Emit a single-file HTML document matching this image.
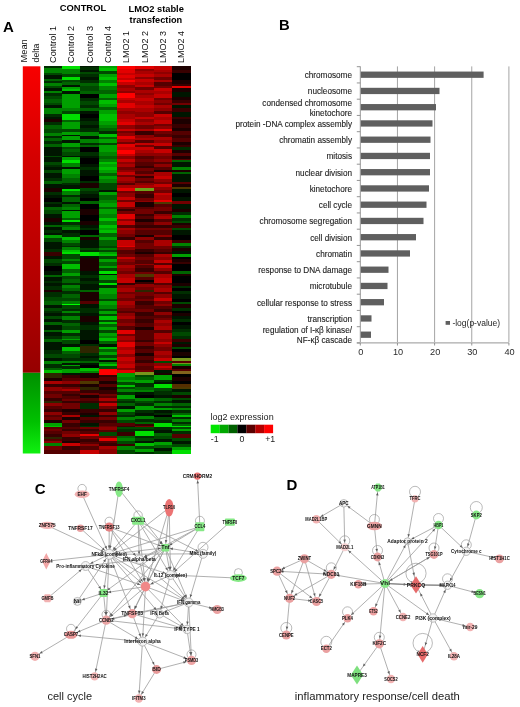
<!DOCTYPE html>
<html><head><meta charset="utf-8"><title>Figure</title>
<style>html,body{margin:0;padding:0;background:#fff;}body{width:520px;height:707px;overflow:hidden;}svg{display:block;}</style>
</head><body><svg width="520" height="707" viewBox="0 0 520 707"><defs><linearGradient id="md1" x1="0" y1="0" x2="0" y2="1"><stop offset="0" stop-color="#f80000"/><stop offset="0.3" stop-color="#d40000"/><stop offset="0.7" stop-color="#b40000"/><stop offset="1" stop-color="#960000"/></linearGradient><linearGradient id="md2" x1="0" y1="0" x2="0" y2="1"><stop offset="0" stop-color="#009000"/><stop offset="0.6" stop-color="#00c000"/><stop offset="1" stop-color="#10f010"/></linearGradient><filter id="hb" x="-2%" y="-1%" width="104%" height="102%"><feGaussianBlur stdDeviation="0.55"/></filter></defs><rect x="22.8" y="66.3" width="17.6" height="306.5" fill="url(#md1)"/><rect x="22.8" y="372.8" width="17.6" height="80.7" fill="url(#md2)"/><g filter="url(#hb)"><g shape-rendering="crispEdges"><rect x="43.80" y="66.30" width="18.79" height="2.31" fill="#002d00"/><rect x="43.80" y="68.11" width="18.79" height="5.42" fill="#008200"/><rect x="43.80" y="73.02" width="18.79" height="2.61" fill="#004800"/><rect x="43.80" y="75.13" width="18.79" height="4.01" fill="#001400"/><rect x="43.80" y="78.64" width="18.79" height="2.61" fill="#006400"/><rect x="43.80" y="80.75" width="18.79" height="2.61" fill="#002d00"/><rect x="43.80" y="82.85" width="18.79" height="3.31" fill="#008200"/><rect x="43.80" y="85.66" width="18.79" height="3.31" fill="#004800"/><rect x="43.80" y="88.47" width="18.79" height="2.61" fill="#001400"/><rect x="43.80" y="90.58" width="18.79" height="3.31" fill="#008200"/><rect x="43.80" y="93.39" width="18.79" height="3.31" fill="#002d00"/><rect x="43.80" y="96.20" width="18.79" height="3.31" fill="#004800"/><rect x="43.80" y="99.01" width="18.79" height="4.01" fill="#006400"/><rect x="43.80" y="102.52" width="18.79" height="3.31" fill="#004800"/><rect x="43.80" y="105.33" width="18.79" height="3.31" fill="#001400"/><rect x="43.80" y="108.13" width="18.79" height="6.12" fill="#008200"/><rect x="43.80" y="113.75" width="18.79" height="3.31" fill="#002d00"/><rect x="43.80" y="116.56" width="18.79" height="3.31" fill="#001400"/><rect x="43.80" y="119.37" width="18.79" height="3.31" fill="#1c0000"/><rect x="43.80" y="122.18" width="18.79" height="3.31" fill="#002d00"/><rect x="43.80" y="124.99" width="18.79" height="4.71" fill="#006400"/><rect x="43.80" y="129.20" width="18.79" height="4.01" fill="#004800"/><rect x="43.80" y="132.71" width="18.79" height="3.31" fill="#008200"/><rect x="43.80" y="135.52" width="18.79" height="2.61" fill="#002d00"/><rect x="43.80" y="137.63" width="18.79" height="4.01" fill="#006400"/><rect x="43.80" y="141.14" width="18.79" height="3.31" fill="#002d00"/><rect x="43.80" y="143.95" width="18.79" height="3.31" fill="#006400"/><rect x="43.80" y="146.76" width="18.79" height="9.77" fill="#001400"/><rect x="62.09" y="66.30" width="18.79" height="3.01" fill="#00df00"/><rect x="62.09" y="68.81" width="18.79" height="6.12" fill="#008200"/><rect x="62.09" y="74.43" width="18.79" height="2.61" fill="#004800"/><rect x="62.09" y="76.53" width="18.79" height="4.01" fill="#00df00"/><rect x="62.09" y="80.04" width="18.79" height="2.61" fill="#004800"/><rect x="62.09" y="82.15" width="18.79" height="3.31" fill="#006400"/><rect x="62.09" y="84.96" width="18.79" height="2.61" fill="#001400"/><rect x="62.09" y="87.07" width="18.79" height="2.61" fill="#00a000"/><rect x="62.09" y="89.17" width="18.79" height="2.61" fill="#00bf00"/><rect x="62.09" y="91.28" width="18.79" height="3.31" fill="#001400"/><rect x="62.09" y="94.09" width="18.79" height="14.54" fill="#00a000"/><rect x="62.09" y="108.13" width="18.79" height="3.31" fill="#008200"/><rect x="62.09" y="110.94" width="18.79" height="3.31" fill="#004800"/><rect x="62.09" y="113.75" width="18.79" height="6.82" fill="#00df00"/><rect x="62.09" y="120.07" width="18.79" height="2.61" fill="#006400"/><rect x="62.09" y="122.18" width="18.79" height="7.52" fill="#00a000"/><rect x="62.09" y="129.20" width="18.79" height="3.31" fill="#004800"/><rect x="62.09" y="132.01" width="18.79" height="3.31" fill="#00a000"/><rect x="62.09" y="134.82" width="18.79" height="1.90" fill="#001400"/><rect x="62.09" y="136.22" width="18.79" height="4.71" fill="#00a000"/><rect x="62.09" y="140.44" width="18.79" height="2.61" fill="#001400"/><rect x="62.09" y="142.54" width="18.79" height="4.71" fill="#00a000"/><rect x="62.09" y="146.76" width="18.79" height="2.61" fill="#004800"/><rect x="62.09" y="148.87" width="18.79" height="3.31" fill="#006400"/><rect x="62.09" y="151.67" width="18.79" height="4.85" fill="#004800"/><rect x="80.38" y="66.30" width="18.79" height="1.60" fill="#001400"/><rect x="80.38" y="67.40" width="18.79" height="2.61" fill="#002d00"/><rect x="80.38" y="69.51" width="18.79" height="3.31" fill="#001400"/><rect x="80.38" y="72.32" width="18.79" height="2.61" fill="#004800"/><rect x="80.38" y="74.43" width="18.79" height="3.31" fill="#002d00"/><rect x="80.38" y="77.24" width="18.79" height="3.31" fill="#001400"/><rect x="80.38" y="80.04" width="18.79" height="3.31" fill="#002d00"/><rect x="80.38" y="82.85" width="18.79" height="4.01" fill="#006400"/><rect x="80.38" y="86.37" width="18.79" height="5.42" fill="#004800"/><rect x="80.38" y="91.28" width="18.79" height="3.31" fill="#006400"/><rect x="80.38" y="94.09" width="18.79" height="4.71" fill="#000000"/><rect x="80.38" y="98.30" width="18.79" height="3.31" fill="#002d00"/><rect x="80.38" y="101.11" width="18.79" height="4.71" fill="#004800"/><rect x="80.38" y="105.33" width="18.79" height="3.31" fill="#002d00"/><rect x="80.38" y="108.13" width="18.79" height="3.31" fill="#006400"/><rect x="80.38" y="110.94" width="18.79" height="3.31" fill="#001400"/><rect x="80.38" y="113.75" width="18.79" height="4.71" fill="#000000"/><rect x="80.38" y="117.97" width="18.79" height="3.31" fill="#001400"/><rect x="80.38" y="120.78" width="18.79" height="4.71" fill="#002d00"/><rect x="80.38" y="124.99" width="18.79" height="3.31" fill="#001400"/><rect x="80.38" y="127.80" width="18.79" height="4.71" fill="#002d00"/><rect x="80.38" y="132.01" width="18.79" height="4.01" fill="#008200"/><rect x="80.38" y="135.52" width="18.79" height="4.01" fill="#001400"/><rect x="80.38" y="139.03" width="18.79" height="4.01" fill="#008200"/><rect x="80.38" y="142.54" width="18.79" height="2.61" fill="#002d00"/><rect x="80.38" y="144.65" width="18.79" height="3.31" fill="#006400"/><rect x="80.38" y="147.46" width="18.79" height="4.71" fill="#000000"/><rect x="80.38" y="151.67" width="18.79" height="4.85" fill="#002d00"/><rect x="98.67" y="66.30" width="18.79" height="2.31" fill="#00a000"/><rect x="98.67" y="68.11" width="18.79" height="3.31" fill="#00bf00"/><rect x="98.67" y="70.92" width="18.79" height="3.31" fill="#004800"/><rect x="98.67" y="73.72" width="18.79" height="4.01" fill="#00a000"/><rect x="98.67" y="77.24" width="18.79" height="3.31" fill="#00bf00"/><rect x="98.67" y="80.04" width="18.79" height="3.31" fill="#008200"/><rect x="98.67" y="82.85" width="18.79" height="4.01" fill="#00bf00"/><rect x="98.67" y="86.37" width="18.79" height="4.01" fill="#008200"/><rect x="98.67" y="89.88" width="18.79" height="4.71" fill="#006400"/><rect x="98.67" y="94.09" width="18.79" height="4.01" fill="#00a000"/><rect x="98.67" y="97.60" width="18.79" height="2.61" fill="#006400"/><rect x="98.67" y="99.71" width="18.79" height="4.71" fill="#00bf00"/><rect x="98.67" y="103.92" width="18.79" height="3.31" fill="#00a000"/><rect x="98.67" y="106.73" width="18.79" height="3.31" fill="#006400"/><rect x="98.67" y="109.54" width="18.79" height="4.71" fill="#00a000"/><rect x="98.67" y="113.75" width="18.79" height="7.52" fill="#00bf00"/><rect x="98.67" y="120.78" width="18.79" height="4.71" fill="#00a000"/><rect x="98.67" y="124.99" width="18.79" height="3.31" fill="#008200"/><rect x="98.67" y="127.80" width="18.79" height="4.01" fill="#006400"/><rect x="98.67" y="131.31" width="18.79" height="3.31" fill="#002d00"/><rect x="98.67" y="134.12" width="18.79" height="3.31" fill="#00bf00"/><rect x="98.67" y="136.93" width="18.79" height="2.61" fill="#006400"/><rect x="98.67" y="139.03" width="18.79" height="4.01" fill="#00a000"/><rect x="98.67" y="142.54" width="18.79" height="3.31" fill="#004800"/><rect x="98.67" y="145.35" width="18.79" height="6.82" fill="#00a000"/><rect x="98.67" y="151.67" width="18.79" height="4.85" fill="#008200"/><rect x="116.96" y="66.30" width="18.79" height="3.01" fill="#ff0000"/><rect x="116.96" y="68.81" width="18.79" height="4.71" fill="#e30000"/><rect x="116.96" y="73.02" width="18.79" height="2.61" fill="#c60000"/><rect x="116.96" y="75.13" width="18.79" height="3.31" fill="#e30000"/><rect x="116.96" y="77.94" width="18.79" height="2.61" fill="#c60000"/><rect x="116.96" y="80.04" width="18.79" height="2.61" fill="#ff0000"/><rect x="116.96" y="82.15" width="18.79" height="3.31" fill="#c60000"/><rect x="116.96" y="84.96" width="18.79" height="3.31" fill="#8e0000"/><rect x="116.96" y="87.77" width="18.79" height="3.31" fill="#aa0000"/><rect x="116.96" y="90.58" width="18.79" height="3.31" fill="#8e0000"/><rect x="116.96" y="93.39" width="18.79" height="4.71" fill="#ff0000"/><rect x="116.96" y="97.60" width="18.79" height="3.31" fill="#c60000"/><rect x="116.96" y="100.41" width="18.79" height="3.31" fill="#aa0000"/><rect x="116.96" y="103.22" width="18.79" height="5.42" fill="#e30000"/><rect x="116.96" y="108.13" width="18.79" height="3.31" fill="#aa0000"/><rect x="116.96" y="110.94" width="18.79" height="4.01" fill="#8e0000"/><rect x="116.96" y="114.46" width="18.79" height="4.71" fill="#aa0000"/><rect x="116.96" y="118.67" width="18.79" height="4.01" fill="#c60000"/><rect x="116.96" y="122.18" width="18.79" height="3.31" fill="#e30000"/><rect x="116.96" y="124.99" width="18.79" height="4.01" fill="#8e0000"/><rect x="116.96" y="128.50" width="18.79" height="3.31" fill="#c60000"/><rect x="116.96" y="131.31" width="18.79" height="2.61" fill="#710000"/><rect x="116.96" y="133.42" width="18.79" height="3.31" fill="#8e0000"/><rect x="116.96" y="136.22" width="18.79" height="3.31" fill="#e30000"/><rect x="116.96" y="139.03" width="18.79" height="3.31" fill="#aa0000"/><rect x="116.96" y="141.84" width="18.79" height="2.61" fill="#710000"/><rect x="116.96" y="143.95" width="18.79" height="4.01" fill="#e30000"/><rect x="116.96" y="147.46" width="18.79" height="3.31" fill="#c60000"/><rect x="116.96" y="150.27" width="18.79" height="4.01" fill="#ff0000"/><rect x="116.96" y="153.78" width="18.79" height="2.75" fill="#c60000"/><rect x="135.25" y="66.30" width="18.79" height="3.01" fill="#e30000"/><rect x="135.25" y="68.81" width="18.79" height="2.61" fill="#8e0000"/><rect x="135.25" y="70.92" width="18.79" height="3.31" fill="#aa0000"/><rect x="135.25" y="73.72" width="18.79" height="3.31" fill="#c60000"/><rect x="135.25" y="76.53" width="18.79" height="3.31" fill="#8e0000"/><rect x="135.25" y="79.34" width="18.79" height="3.31" fill="#c60000"/><rect x="135.25" y="82.15" width="18.79" height="3.31" fill="#aa0000"/><rect x="135.25" y="84.96" width="18.79" height="2.61" fill="#c60000"/><rect x="135.25" y="87.07" width="18.79" height="3.31" fill="#710000"/><rect x="135.25" y="89.88" width="18.79" height="3.31" fill="#aa0000"/><rect x="135.25" y="92.69" width="18.79" height="3.31" fill="#8e0000"/><rect x="135.25" y="95.49" width="18.79" height="3.31" fill="#aa0000"/><rect x="135.25" y="98.30" width="18.79" height="3.31" fill="#c60000"/><rect x="135.25" y="101.11" width="18.79" height="4.71" fill="#aa0000"/><rect x="135.25" y="105.33" width="18.79" height="3.31" fill="#c60000"/><rect x="135.25" y="108.13" width="18.79" height="4.71" fill="#aa0000"/><rect x="135.25" y="112.35" width="18.79" height="4.71" fill="#8e0000"/><rect x="135.25" y="116.56" width="18.79" height="3.31" fill="#c60000"/><rect x="135.25" y="119.37" width="18.79" height="3.31" fill="#8e0000"/><rect x="135.25" y="122.18" width="18.79" height="3.31" fill="#aa0000"/><rect x="135.25" y="124.99" width="18.79" height="4.01" fill="#710000"/><rect x="135.25" y="128.50" width="18.79" height="3.31" fill="#aa0000"/><rect x="135.25" y="131.31" width="18.79" height="4.01" fill="#390000"/><rect x="135.25" y="134.82" width="18.79" height="3.31" fill="#8e0000"/><rect x="135.25" y="137.63" width="18.79" height="3.31" fill="#aa0000"/><rect x="135.25" y="140.44" width="18.79" height="2.61" fill="#550000"/><rect x="135.25" y="142.54" width="18.79" height="2.61" fill="#c60000"/><rect x="135.25" y="144.65" width="18.79" height="3.31" fill="#710000"/><rect x="135.25" y="147.46" width="18.79" height="3.31" fill="#c60000"/><rect x="135.25" y="150.27" width="18.79" height="3.31" fill="#aa0000"/><rect x="135.25" y="153.08" width="18.79" height="3.45" fill="#8e0000"/><rect x="153.54" y="66.30" width="18.79" height="3.71" fill="#c60000"/><rect x="153.54" y="69.51" width="18.79" height="3.31" fill="#aa0000"/><rect x="153.54" y="72.32" width="18.79" height="2.61" fill="#8e0000"/><rect x="153.54" y="74.43" width="18.79" height="3.31" fill="#aa0000"/><rect x="153.54" y="77.24" width="18.79" height="3.31" fill="#710000"/><rect x="153.54" y="80.04" width="18.79" height="2.61" fill="#aa0000"/><rect x="153.54" y="82.15" width="18.79" height="4.01" fill="#550000"/><rect x="153.54" y="85.66" width="18.79" height="3.31" fill="#710000"/><rect x="153.54" y="88.47" width="18.79" height="3.31" fill="#c60000"/><rect x="153.54" y="91.28" width="18.79" height="3.31" fill="#aa0000"/><rect x="153.54" y="94.09" width="18.79" height="4.01" fill="#c60000"/><rect x="153.54" y="97.60" width="18.79" height="3.31" fill="#710000"/><rect x="153.54" y="100.41" width="18.79" height="3.31" fill="#8e0000"/><rect x="153.54" y="103.22" width="18.79" height="2.61" fill="#710000"/><rect x="153.54" y="105.33" width="18.79" height="3.31" fill="#aa0000"/><rect x="153.54" y="108.13" width="18.79" height="3.31" fill="#8e0000"/><rect x="153.54" y="110.94" width="18.79" height="4.01" fill="#550000"/><rect x="153.54" y="114.46" width="18.79" height="3.31" fill="#c60000"/><rect x="153.54" y="117.26" width="18.79" height="3.31" fill="#aa0000"/><rect x="153.54" y="120.07" width="18.79" height="4.01" fill="#c60000"/><rect x="153.54" y="123.58" width="18.79" height="2.61" fill="#710000"/><rect x="153.54" y="125.69" width="18.79" height="3.31" fill="#8e0000"/><rect x="153.54" y="128.50" width="18.79" height="3.31" fill="#e30000"/><rect x="153.54" y="131.31" width="18.79" height="3.31" fill="#710000"/><rect x="153.54" y="134.12" width="18.79" height="3.31" fill="#550000"/><rect x="153.54" y="136.93" width="18.79" height="3.31" fill="#aa0000"/><rect x="153.54" y="139.74" width="18.79" height="3.31" fill="#8e0000"/><rect x="153.54" y="142.54" width="18.79" height="4.01" fill="#c60000"/><rect x="153.54" y="146.06" width="18.79" height="3.31" fill="#550000"/><rect x="153.54" y="148.87" width="18.79" height="4.71" fill="#c60000"/><rect x="153.54" y="153.08" width="18.79" height="3.45" fill="#8e0000"/><rect x="171.83" y="66.30" width="18.79" height="4.41" fill="#1c0000"/><rect x="171.83" y="70.21" width="18.79" height="3.31" fill="#390000"/><rect x="171.83" y="73.02" width="18.79" height="7.52" fill="#000000"/><rect x="171.83" y="80.04" width="18.79" height="4.71" fill="#1c0000"/><rect x="171.83" y="84.26" width="18.79" height="1.90" fill="#390000"/><rect x="171.83" y="85.66" width="18.79" height="3.31" fill="#e30000"/><rect x="171.83" y="88.47" width="18.79" height="4.01" fill="#1c0000"/><rect x="171.83" y="91.98" width="18.79" height="5.42" fill="#001400"/><rect x="171.83" y="96.90" width="18.79" height="3.31" fill="#1c0000"/><rect x="171.83" y="99.71" width="18.79" height="3.31" fill="#390000"/><rect x="171.83" y="102.52" width="18.79" height="3.31" fill="#710000"/><rect x="171.83" y="105.33" width="18.79" height="3.31" fill="#001400"/><rect x="171.83" y="108.13" width="18.79" height="4.71" fill="#390000"/><rect x="171.83" y="112.35" width="18.79" height="4.71" fill="#001400"/><rect x="171.83" y="116.56" width="18.79" height="3.31" fill="#390000"/><rect x="171.83" y="119.37" width="18.79" height="4.71" fill="#1c0000"/><rect x="171.83" y="123.58" width="18.79" height="4.71" fill="#390000"/><rect x="171.83" y="127.80" width="18.79" height="3.31" fill="#1c0000"/><rect x="171.83" y="130.61" width="18.79" height="4.71" fill="#550000"/><rect x="171.83" y="134.82" width="18.79" height="3.31" fill="#390000"/><rect x="171.83" y="137.63" width="18.79" height="4.71" fill="#550000"/><rect x="171.83" y="141.84" width="18.79" height="3.31" fill="#1c0000"/><rect x="171.83" y="144.65" width="18.79" height="2.61" fill="#390000"/><rect x="171.83" y="146.76" width="18.79" height="4.01" fill="#002d00"/><rect x="171.83" y="150.27" width="18.79" height="3.31" fill="#1c0000"/><rect x="171.83" y="153.08" width="18.79" height="3.45" fill="#550000"/><rect x="43.80" y="156.00" width="18.79" height="1.90" fill="#004800"/><rect x="43.80" y="157.40" width="18.79" height="5.42" fill="#001400"/><rect x="43.80" y="162.32" width="18.79" height="3.31" fill="#004800"/><rect x="43.80" y="165.13" width="18.79" height="2.61" fill="#002d00"/><rect x="43.80" y="167.24" width="18.79" height="3.31" fill="#001400"/><rect x="43.80" y="170.04" width="18.79" height="3.31" fill="#004800"/><rect x="43.80" y="172.85" width="18.79" height="6.12" fill="#001400"/><rect x="43.80" y="178.47" width="18.79" height="3.31" fill="#002d00"/><rect x="43.80" y="181.28" width="18.79" height="3.31" fill="#006400"/><rect x="43.80" y="184.09" width="18.79" height="4.01" fill="#001400"/><rect x="43.80" y="187.60" width="18.79" height="4.71" fill="#1c0000"/><rect x="43.80" y="191.81" width="18.79" height="3.31" fill="#002d00"/><rect x="43.80" y="194.62" width="18.79" height="4.01" fill="#001400"/><rect x="43.80" y="198.13" width="18.79" height="4.71" fill="#000000"/><rect x="43.80" y="202.35" width="18.79" height="2.61" fill="#002d00"/><rect x="43.80" y="204.46" width="18.79" height="3.31" fill="#001400"/><rect x="43.80" y="207.26" width="18.79" height="3.31" fill="#006400"/><rect x="43.80" y="210.07" width="18.79" height="4.01" fill="#004800"/><rect x="43.80" y="213.58" width="18.79" height="4.71" fill="#001400"/><rect x="43.80" y="217.80" width="18.79" height="4.71" fill="#1c0000"/><rect x="43.80" y="222.01" width="18.79" height="3.31" fill="#001400"/><rect x="43.80" y="224.82" width="18.79" height="2.61" fill="#006400"/><rect x="43.80" y="226.93" width="18.79" height="4.01" fill="#001400"/><rect x="43.80" y="230.44" width="18.79" height="3.31" fill="#002d00"/><rect x="43.80" y="233.25" width="18.79" height="2.61" fill="#001400"/><rect x="43.80" y="235.35" width="18.79" height="3.31" fill="#00a000"/><rect x="43.80" y="238.16" width="18.79" height="4.01" fill="#004800"/><rect x="43.80" y="241.67" width="18.79" height="4.85" fill="#001400"/><rect x="62.09" y="156.00" width="18.79" height="1.90" fill="#001400"/><rect x="62.09" y="157.40" width="18.79" height="3.31" fill="#00a000"/><rect x="62.09" y="160.21" width="18.79" height="3.31" fill="#00df00"/><rect x="62.09" y="163.02" width="18.79" height="4.71" fill="#008200"/><rect x="62.09" y="167.24" width="18.79" height="1.90" fill="#001400"/><rect x="62.09" y="168.64" width="18.79" height="6.12" fill="#00a000"/><rect x="62.09" y="174.26" width="18.79" height="4.71" fill="#008200"/><rect x="62.09" y="178.47" width="18.79" height="5.42" fill="#006400"/><rect x="62.09" y="183.39" width="18.79" height="2.61" fill="#002d00"/><rect x="62.09" y="185.49" width="18.79" height="4.01" fill="#001400"/><rect x="62.09" y="189.01" width="18.79" height="2.61" fill="#00df00"/><rect x="62.09" y="191.11" width="18.79" height="4.01" fill="#008200"/><rect x="62.09" y="194.62" width="18.79" height="2.61" fill="#002d00"/><rect x="62.09" y="196.73" width="18.79" height="6.12" fill="#006400"/><rect x="62.09" y="202.35" width="18.79" height="2.61" fill="#001400"/><rect x="62.09" y="204.46" width="18.79" height="3.31" fill="#006400"/><rect x="62.09" y="207.26" width="18.79" height="3.31" fill="#008200"/><rect x="62.09" y="210.07" width="18.79" height="1.90" fill="#001400"/><rect x="62.09" y="211.48" width="18.79" height="6.82" fill="#00a000"/><rect x="62.09" y="217.80" width="18.79" height="2.61" fill="#006400"/><rect x="62.09" y="219.90" width="18.79" height="2.61" fill="#00df00"/><rect x="62.09" y="222.01" width="18.79" height="3.31" fill="#002d00"/><rect x="62.09" y="224.82" width="18.79" height="2.61" fill="#006400"/><rect x="62.09" y="226.93" width="18.79" height="4.01" fill="#008200"/><rect x="62.09" y="230.44" width="18.79" height="3.31" fill="#001400"/><rect x="62.09" y="233.25" width="18.79" height="4.01" fill="#002d00"/><rect x="62.09" y="236.76" width="18.79" height="4.01" fill="#00bf00"/><rect x="62.09" y="240.27" width="18.79" height="3.31" fill="#008200"/><rect x="62.09" y="243.08" width="18.79" height="3.45" fill="#004800"/><rect x="80.38" y="156.00" width="18.79" height="2.61" fill="#001400"/><rect x="80.38" y="158.11" width="18.79" height="6.82" fill="#000000"/><rect x="80.38" y="164.43" width="18.79" height="3.31" fill="#001400"/><rect x="80.38" y="167.24" width="18.79" height="3.31" fill="#002d00"/><rect x="80.38" y="170.04" width="18.79" height="6.12" fill="#001400"/><rect x="80.38" y="175.66" width="18.79" height="5.42" fill="#000000"/><rect x="80.38" y="180.58" width="18.79" height="3.31" fill="#002d00"/><rect x="80.38" y="183.39" width="18.79" height="5.42" fill="#1c0000"/><rect x="80.38" y="188.30" width="18.79" height="3.31" fill="#004800"/><rect x="80.38" y="191.11" width="18.79" height="3.31" fill="#002d00"/><rect x="80.38" y="193.92" width="18.79" height="4.71" fill="#001400"/><rect x="80.38" y="198.13" width="18.79" height="3.31" fill="#000000"/><rect x="80.38" y="200.94" width="18.79" height="3.31" fill="#006400"/><rect x="80.38" y="203.75" width="18.79" height="6.12" fill="#000000"/><rect x="80.38" y="209.37" width="18.79" height="6.12" fill="#1c0000"/><rect x="80.38" y="214.99" width="18.79" height="6.12" fill="#000000"/><rect x="80.38" y="220.61" width="18.79" height="4.71" fill="#1c0000"/><rect x="80.38" y="224.82" width="18.79" height="3.31" fill="#001400"/><rect x="80.38" y="227.63" width="18.79" height="3.31" fill="#002d00"/><rect x="80.38" y="230.44" width="18.79" height="4.71" fill="#000000"/><rect x="80.38" y="234.65" width="18.79" height="3.31" fill="#006400"/><rect x="80.38" y="237.46" width="18.79" height="3.31" fill="#1c0000"/><rect x="80.38" y="240.27" width="18.79" height="6.26" fill="#001400"/><rect x="98.67" y="156.00" width="18.79" height="3.31" fill="#006400"/><rect x="98.67" y="158.81" width="18.79" height="4.01" fill="#008200"/><rect x="98.67" y="162.32" width="18.79" height="2.61" fill="#00bf00"/><rect x="98.67" y="164.43" width="18.79" height="3.31" fill="#00a000"/><rect x="98.67" y="167.24" width="18.79" height="3.31" fill="#00bf00"/><rect x="98.67" y="170.04" width="18.79" height="3.31" fill="#00a000"/><rect x="98.67" y="172.85" width="18.79" height="4.01" fill="#006400"/><rect x="98.67" y="176.37" width="18.79" height="3.31" fill="#00a000"/><rect x="98.67" y="179.17" width="18.79" height="4.71" fill="#008200"/><rect x="98.67" y="183.39" width="18.79" height="6.82" fill="#004800"/><rect x="98.67" y="189.71" width="18.79" height="2.61" fill="#001400"/><rect x="98.67" y="191.81" width="18.79" height="4.01" fill="#00a000"/><rect x="98.67" y="195.33" width="18.79" height="4.71" fill="#006400"/><rect x="98.67" y="199.54" width="18.79" height="4.01" fill="#008200"/><rect x="98.67" y="203.05" width="18.79" height="4.01" fill="#00a000"/><rect x="98.67" y="206.56" width="18.79" height="3.31" fill="#006400"/><rect x="98.67" y="209.37" width="18.79" height="4.71" fill="#00a000"/><rect x="98.67" y="213.58" width="18.79" height="4.71" fill="#008200"/><rect x="98.67" y="217.80" width="18.79" height="3.31" fill="#00bf00"/><rect x="98.67" y="220.61" width="18.79" height="4.71" fill="#008200"/><rect x="98.67" y="224.82" width="18.79" height="3.31" fill="#00bf00"/><rect x="98.67" y="227.63" width="18.79" height="3.31" fill="#00a000"/><rect x="98.67" y="230.44" width="18.79" height="3.31" fill="#00bf00"/><rect x="98.67" y="233.25" width="18.79" height="4.01" fill="#006400"/><rect x="98.67" y="236.76" width="18.79" height="4.01" fill="#00a000"/><rect x="98.67" y="240.27" width="18.79" height="6.26" fill="#006400"/><rect x="116.96" y="156.00" width="18.79" height="3.31" fill="#8e0000"/><rect x="116.96" y="158.81" width="18.79" height="4.01" fill="#c60000"/><rect x="116.96" y="162.32" width="18.79" height="2.61" fill="#8e0000"/><rect x="116.96" y="164.43" width="18.79" height="3.31" fill="#aa0000"/><rect x="116.96" y="167.24" width="18.79" height="3.31" fill="#710000"/><rect x="116.96" y="170.04" width="18.79" height="2.61" fill="#8e0000"/><rect x="116.96" y="172.15" width="18.79" height="3.31" fill="#c60000"/><rect x="116.96" y="174.96" width="18.79" height="2.61" fill="#710000"/><rect x="116.96" y="177.07" width="18.79" height="4.01" fill="#aa0000"/><rect x="116.96" y="180.58" width="18.79" height="3.31" fill="#8e0000"/><rect x="116.96" y="183.39" width="18.79" height="2.61" fill="#550000"/><rect x="116.96" y="185.49" width="18.79" height="3.31" fill="#aa0000"/><rect x="116.96" y="188.30" width="18.79" height="3.31" fill="#e30000"/><rect x="116.96" y="191.11" width="18.79" height="2.61" fill="#710000"/><rect x="116.96" y="193.22" width="18.79" height="4.01" fill="#8e0000"/><rect x="116.96" y="196.73" width="18.79" height="3.31" fill="#c60000"/><rect x="116.96" y="199.54" width="18.79" height="3.31" fill="#710000"/><rect x="116.96" y="202.35" width="18.79" height="4.71" fill="#c60000"/><rect x="116.96" y="206.56" width="18.79" height="2.61" fill="#710000"/><rect x="116.96" y="208.67" width="18.79" height="3.31" fill="#390000"/><rect x="116.96" y="211.48" width="18.79" height="2.61" fill="#710000"/><rect x="116.96" y="213.58" width="18.79" height="5.42" fill="#e30000"/><rect x="116.96" y="218.50" width="18.79" height="3.31" fill="#8e0000"/><rect x="116.96" y="221.31" width="18.79" height="4.01" fill="#c60000"/><rect x="116.96" y="224.82" width="18.79" height="3.31" fill="#550000"/><rect x="116.96" y="227.63" width="18.79" height="3.31" fill="#aa0000"/><rect x="116.96" y="230.44" width="18.79" height="4.01" fill="#8e0000"/><rect x="116.96" y="233.95" width="18.79" height="3.31" fill="#710000"/><rect x="116.96" y="236.76" width="18.79" height="4.01" fill="#390000"/><rect x="116.96" y="240.27" width="18.79" height="6.26" fill="#c60000"/><rect x="135.25" y="156.00" width="18.79" height="3.31" fill="#550000"/><rect x="135.25" y="158.81" width="18.79" height="4.01" fill="#710000"/><rect x="135.25" y="162.32" width="18.79" height="4.01" fill="#550000"/><rect x="135.25" y="165.83" width="18.79" height="2.61" fill="#390000"/><rect x="135.25" y="167.94" width="18.79" height="3.31" fill="#710000"/><rect x="135.25" y="170.75" width="18.79" height="3.31" fill="#550000"/><rect x="135.25" y="173.56" width="18.79" height="3.31" fill="#8e0000"/><rect x="135.25" y="176.37" width="18.79" height="2.61" fill="#390000"/><rect x="135.25" y="178.47" width="18.79" height="2.61" fill="#710000"/><rect x="135.25" y="180.58" width="18.79" height="3.31" fill="#550000"/><rect x="135.25" y="183.39" width="18.79" height="2.61" fill="#8e0000"/><rect x="135.25" y="185.49" width="18.79" height="3.31" fill="#aa0000"/><rect x="135.25" y="188.30" width="18.79" height="3.31" fill="#6ea01e"/><rect x="135.25" y="191.11" width="18.79" height="3.31" fill="#550000"/><rect x="135.25" y="193.92" width="18.79" height="4.71" fill="#390000"/><rect x="135.25" y="198.13" width="18.79" height="3.31" fill="#710000"/><rect x="135.25" y="200.94" width="18.79" height="1.90" fill="#8e0000"/><rect x="135.25" y="202.35" width="18.79" height="4.71" fill="#1c0000"/><rect x="135.25" y="206.56" width="18.79" height="3.31" fill="#550000"/><rect x="135.25" y="209.37" width="18.79" height="4.71" fill="#710000"/><rect x="135.25" y="213.58" width="18.79" height="3.31" fill="#390000"/><rect x="135.25" y="216.39" width="18.79" height="2.61" fill="#550000"/><rect x="135.25" y="218.50" width="18.79" height="4.01" fill="#1c0000"/><rect x="135.25" y="222.01" width="18.79" height="3.31" fill="#550000"/><rect x="135.25" y="224.82" width="18.79" height="3.31" fill="#390000"/><rect x="135.25" y="227.63" width="18.79" height="3.31" fill="#710000"/><rect x="135.25" y="230.44" width="18.79" height="4.71" fill="#550000"/><rect x="135.25" y="234.65" width="18.79" height="2.61" fill="#1c0000"/><rect x="135.25" y="236.76" width="18.79" height="4.01" fill="#8e0000"/><rect x="135.25" y="240.27" width="18.79" height="3.31" fill="#550000"/><rect x="135.25" y="243.08" width="18.79" height="3.45" fill="#710000"/><rect x="153.54" y="156.00" width="18.79" height="3.31" fill="#710000"/><rect x="153.54" y="158.81" width="18.79" height="3.31" fill="#8e0000"/><rect x="153.54" y="161.62" width="18.79" height="2.61" fill="#550000"/><rect x="153.54" y="163.72" width="18.79" height="4.01" fill="#8e0000"/><rect x="153.54" y="167.24" width="18.79" height="3.31" fill="#550000"/><rect x="153.54" y="170.04" width="18.79" height="2.61" fill="#1c0000"/><rect x="153.54" y="172.15" width="18.79" height="4.01" fill="#aa0000"/><rect x="153.54" y="175.66" width="18.79" height="4.01" fill="#c60000"/><rect x="153.54" y="179.17" width="18.79" height="3.31" fill="#8e0000"/><rect x="153.54" y="181.98" width="18.79" height="2.61" fill="#710000"/><rect x="153.54" y="184.09" width="18.79" height="3.31" fill="#c60000"/><rect x="153.54" y="186.90" width="18.79" height="3.31" fill="#8e0000"/><rect x="153.54" y="189.71" width="18.79" height="3.31" fill="#710000"/><rect x="153.54" y="192.52" width="18.79" height="3.31" fill="#c60000"/><rect x="153.54" y="195.33" width="18.79" height="4.71" fill="#aa0000"/><rect x="153.54" y="199.54" width="18.79" height="3.31" fill="#e30000"/><rect x="153.54" y="202.35" width="18.79" height="2.61" fill="#503700"/><rect x="153.54" y="204.46" width="18.79" height="3.31" fill="#550000"/><rect x="153.54" y="207.26" width="18.79" height="4.01" fill="#710000"/><rect x="153.54" y="210.78" width="18.79" height="3.31" fill="#390000"/><rect x="153.54" y="213.58" width="18.79" height="3.31" fill="#8e0000"/><rect x="153.54" y="216.39" width="18.79" height="3.31" fill="#aa0000"/><rect x="153.54" y="219.20" width="18.79" height="3.31" fill="#550000"/><rect x="153.54" y="222.01" width="18.79" height="3.31" fill="#8e0000"/><rect x="153.54" y="224.82" width="18.79" height="3.31" fill="#390000"/><rect x="153.54" y="227.63" width="18.79" height="3.31" fill="#710000"/><rect x="153.54" y="230.44" width="18.79" height="4.71" fill="#550000"/><rect x="153.54" y="234.65" width="18.79" height="3.31" fill="#8e0000"/><rect x="153.54" y="237.46" width="18.79" height="3.31" fill="#390000"/><rect x="153.54" y="240.27" width="18.79" height="6.26" fill="#aa0000"/><rect x="171.83" y="156.00" width="18.79" height="3.31" fill="#1c0000"/><rect x="171.83" y="158.81" width="18.79" height="1.90" fill="#550000"/><rect x="171.83" y="160.21" width="18.79" height="2.61" fill="#006400"/><rect x="171.83" y="162.32" width="18.79" height="5.42" fill="#001400"/><rect x="171.83" y="167.24" width="18.79" height="3.31" fill="#008200"/><rect x="171.83" y="170.04" width="18.79" height="2.61" fill="#1c0000"/><rect x="171.83" y="172.15" width="18.79" height="2.61" fill="#006400"/><rect x="171.83" y="174.26" width="18.79" height="8.22" fill="#001400"/><rect x="171.83" y="181.98" width="18.79" height="2.61" fill="#550000"/><rect x="171.83" y="184.09" width="18.79" height="3.31" fill="#1c0000"/><rect x="171.83" y="186.90" width="18.79" height="2.61" fill="#503700"/><rect x="171.83" y="189.01" width="18.79" height="4.01" fill="#001400"/><rect x="171.83" y="192.52" width="18.79" height="4.71" fill="#000000"/><rect x="171.83" y="196.73" width="18.79" height="4.71" fill="#001400"/><rect x="171.83" y="200.94" width="18.79" height="3.31" fill="#710000"/><rect x="171.83" y="203.75" width="18.79" height="6.12" fill="#001400"/><rect x="171.83" y="209.37" width="18.79" height="3.31" fill="#1c0000"/><rect x="171.83" y="212.18" width="18.79" height="3.31" fill="#002d00"/><rect x="171.83" y="214.99" width="18.79" height="3.31" fill="#008200"/><rect x="171.83" y="217.80" width="18.79" height="3.31" fill="#002d00"/><rect x="171.83" y="220.61" width="18.79" height="2.61" fill="#004800"/><rect x="171.83" y="222.71" width="18.79" height="2.61" fill="#1c0000"/><rect x="171.83" y="224.82" width="18.79" height="3.31" fill="#390000"/><rect x="171.83" y="227.63" width="18.79" height="3.31" fill="#004800"/><rect x="171.83" y="230.44" width="18.79" height="4.71" fill="#001400"/><rect x="171.83" y="234.65" width="18.79" height="6.12" fill="#000000"/><rect x="171.83" y="240.27" width="18.79" height="3.31" fill="#390000"/><rect x="171.83" y="243.08" width="18.79" height="3.45" fill="#008200"/><rect x="43.80" y="246.00" width="18.79" height="3.31" fill="#001400"/><rect x="43.80" y="248.81" width="18.79" height="4.01" fill="#002d00"/><rect x="43.80" y="252.32" width="18.79" height="4.01" fill="#390000"/><rect x="43.80" y="255.83" width="18.79" height="3.31" fill="#001400"/><rect x="43.80" y="258.64" width="18.79" height="4.71" fill="#004800"/><rect x="43.80" y="262.85" width="18.79" height="3.31" fill="#002d00"/><rect x="43.80" y="265.66" width="18.79" height="5.42" fill="#000000"/><rect x="43.80" y="270.58" width="18.79" height="4.71" fill="#001400"/><rect x="43.80" y="274.79" width="18.79" height="2.61" fill="#006400"/><rect x="43.80" y="276.90" width="18.79" height="4.71" fill="#001400"/><rect x="43.80" y="281.11" width="18.79" height="2.61" fill="#002d00"/><rect x="43.80" y="283.22" width="18.79" height="3.31" fill="#001400"/><rect x="43.80" y="286.03" width="18.79" height="4.01" fill="#002d00"/><rect x="43.80" y="289.54" width="18.79" height="3.31" fill="#1c0000"/><rect x="43.80" y="292.35" width="18.79" height="4.71" fill="#002d00"/><rect x="43.80" y="296.56" width="18.79" height="4.71" fill="#004800"/><rect x="43.80" y="300.78" width="18.79" height="4.71" fill="#006400"/><rect x="43.80" y="304.99" width="18.79" height="3.31" fill="#001400"/><rect x="43.80" y="307.80" width="18.79" height="3.31" fill="#004800"/><rect x="43.80" y="310.61" width="18.79" height="3.31" fill="#002d00"/><rect x="43.80" y="313.42" width="18.79" height="3.31" fill="#001400"/><rect x="43.80" y="316.22" width="18.79" height="3.31" fill="#004800"/><rect x="43.80" y="319.03" width="18.79" height="3.31" fill="#001400"/><rect x="43.80" y="321.84" width="18.79" height="3.31" fill="#006400"/><rect x="43.80" y="324.65" width="18.79" height="6.12" fill="#001400"/><rect x="43.80" y="330.27" width="18.79" height="2.61" fill="#006400"/><rect x="43.80" y="332.38" width="18.79" height="4.15" fill="#001400"/><rect x="62.09" y="246.00" width="18.79" height="1.90" fill="#002d00"/><rect x="62.09" y="247.40" width="18.79" height="2.61" fill="#008200"/><rect x="62.09" y="249.51" width="18.79" height="2.61" fill="#00bf00"/><rect x="62.09" y="251.62" width="18.79" height="3.31" fill="#00df00"/><rect x="62.09" y="254.43" width="18.79" height="4.71" fill="#004800"/><rect x="62.09" y="258.64" width="18.79" height="3.31" fill="#008200"/><rect x="62.09" y="261.45" width="18.79" height="3.31" fill="#004800"/><rect x="62.09" y="264.26" width="18.79" height="5.42" fill="#00bf00"/><rect x="62.09" y="269.17" width="18.79" height="4.01" fill="#006400"/><rect x="62.09" y="272.69" width="18.79" height="4.01" fill="#00a000"/><rect x="62.09" y="276.20" width="18.79" height="3.31" fill="#004800"/><rect x="62.09" y="279.01" width="18.79" height="4.01" fill="#006400"/><rect x="62.09" y="282.52" width="18.79" height="2.61" fill="#002d00"/><rect x="62.09" y="284.62" width="18.79" height="4.01" fill="#008200"/><rect x="62.09" y="288.13" width="18.79" height="3.31" fill="#006400"/><rect x="62.09" y="290.94" width="18.79" height="3.31" fill="#002d00"/><rect x="62.09" y="293.75" width="18.79" height="4.71" fill="#006400"/><rect x="62.09" y="297.97" width="18.79" height="4.01" fill="#004800"/><rect x="62.09" y="301.48" width="18.79" height="2.61" fill="#008200"/><rect x="62.09" y="303.58" width="18.79" height="1.90" fill="#00ff00"/><rect x="62.09" y="304.99" width="18.79" height="4.01" fill="#004800"/><rect x="62.09" y="308.50" width="18.79" height="2.61" fill="#002d00"/><rect x="62.09" y="310.61" width="18.79" height="3.31" fill="#008200"/><rect x="62.09" y="313.42" width="18.79" height="3.31" fill="#002d00"/><rect x="62.09" y="316.22" width="18.79" height="4.01" fill="#008200"/><rect x="62.09" y="319.74" width="18.79" height="3.31" fill="#002d00"/><rect x="62.09" y="322.54" width="18.79" height="4.01" fill="#006400"/><rect x="62.09" y="326.06" width="18.79" height="4.71" fill="#004800"/><rect x="62.09" y="330.27" width="18.79" height="3.31" fill="#00a000"/><rect x="62.09" y="333.08" width="18.79" height="3.45" fill="#002d00"/><rect x="80.38" y="246.00" width="18.79" height="2.61" fill="#001400"/><rect x="80.38" y="248.11" width="18.79" height="2.61" fill="#004800"/><rect x="80.38" y="250.21" width="18.79" height="2.61" fill="#002d00"/><rect x="80.38" y="252.32" width="18.79" height="4.01" fill="#00df00"/><rect x="80.38" y="255.83" width="18.79" height="2.61" fill="#001400"/><rect x="80.38" y="257.94" width="18.79" height="13.14" fill="#1c0000"/><rect x="80.38" y="270.58" width="18.79" height="4.71" fill="#001400"/><rect x="80.38" y="274.79" width="18.79" height="3.31" fill="#002d00"/><rect x="80.38" y="277.60" width="18.79" height="4.01" fill="#001400"/><rect x="80.38" y="281.11" width="18.79" height="3.31" fill="#002d00"/><rect x="80.38" y="283.92" width="18.79" height="6.12" fill="#001400"/><rect x="80.38" y="289.54" width="18.79" height="2.61" fill="#006400"/><rect x="80.38" y="291.65" width="18.79" height="10.33" fill="#1c0000"/><rect x="80.38" y="301.48" width="18.79" height="3.31" fill="#550000"/><rect x="80.38" y="304.29" width="18.79" height="4.01" fill="#001400"/><rect x="80.38" y="307.80" width="18.79" height="6.12" fill="#002d00"/><rect x="80.38" y="313.42" width="18.79" height="3.31" fill="#001400"/><rect x="80.38" y="316.22" width="18.79" height="6.12" fill="#1c0000"/><rect x="80.38" y="321.84" width="18.79" height="3.31" fill="#001400"/><rect x="80.38" y="324.65" width="18.79" height="6.12" fill="#002d00"/><rect x="80.38" y="330.27" width="18.79" height="6.26" fill="#001400"/><rect x="98.67" y="246.00" width="18.79" height="2.61" fill="#004800"/><rect x="98.67" y="248.11" width="18.79" height="2.61" fill="#008200"/><rect x="98.67" y="250.21" width="18.79" height="2.61" fill="#004800"/><rect x="98.67" y="252.32" width="18.79" height="1.90" fill="#00a000"/><rect x="98.67" y="253.72" width="18.79" height="2.61" fill="#00bf00"/><rect x="98.67" y="255.83" width="18.79" height="3.31" fill="#004800"/><rect x="98.67" y="258.64" width="18.79" height="4.01" fill="#00a000"/><rect x="98.67" y="262.15" width="18.79" height="4.01" fill="#006400"/><rect x="98.67" y="265.66" width="18.79" height="3.31" fill="#00a000"/><rect x="98.67" y="268.47" width="18.79" height="3.31" fill="#004800"/><rect x="98.67" y="271.28" width="18.79" height="3.31" fill="#00df00"/><rect x="98.67" y="274.09" width="18.79" height="1.90" fill="#001400"/><rect x="98.67" y="275.49" width="18.79" height="4.71" fill="#00a000"/><rect x="98.67" y="279.71" width="18.79" height="3.31" fill="#004800"/><rect x="98.67" y="282.52" width="18.79" height="3.31" fill="#00df00"/><rect x="98.67" y="285.33" width="18.79" height="3.31" fill="#002d00"/><rect x="98.67" y="288.13" width="18.79" height="6.12" fill="#00a000"/><rect x="98.67" y="293.75" width="18.79" height="6.12" fill="#008200"/><rect x="98.67" y="299.37" width="18.79" height="2.61" fill="#004800"/><rect x="98.67" y="301.48" width="18.79" height="4.01" fill="#00a000"/><rect x="98.67" y="304.99" width="18.79" height="4.01" fill="#008200"/><rect x="98.67" y="308.50" width="18.79" height="3.31" fill="#004800"/><rect x="98.67" y="311.31" width="18.79" height="3.31" fill="#00a000"/><rect x="98.67" y="314.12" width="18.79" height="2.61" fill="#004800"/><rect x="98.67" y="316.22" width="18.79" height="4.01" fill="#00bf00"/><rect x="98.67" y="319.74" width="18.79" height="2.61" fill="#004800"/><rect x="98.67" y="321.84" width="18.79" height="2.61" fill="#00bf00"/><rect x="98.67" y="323.95" width="18.79" height="4.01" fill="#006400"/><rect x="98.67" y="327.46" width="18.79" height="3.31" fill="#00a000"/><rect x="98.67" y="330.27" width="18.79" height="3.31" fill="#004800"/><rect x="98.67" y="333.08" width="18.79" height="3.45" fill="#00a000"/><rect x="116.96" y="246.00" width="18.79" height="1.90" fill="#e30000"/><rect x="116.96" y="247.40" width="18.79" height="3.31" fill="#8e0000"/><rect x="116.96" y="250.21" width="18.79" height="4.01" fill="#550000"/><rect x="116.96" y="253.72" width="18.79" height="3.31" fill="#710000"/><rect x="116.96" y="256.53" width="18.79" height="3.31" fill="#c60000"/><rect x="116.96" y="259.34" width="18.79" height="3.31" fill="#8e0000"/><rect x="116.96" y="262.15" width="18.79" height="3.31" fill="#710000"/><rect x="116.96" y="264.96" width="18.79" height="4.01" fill="#aa0000"/><rect x="116.96" y="268.47" width="18.79" height="3.31" fill="#8e0000"/><rect x="116.96" y="271.28" width="18.79" height="3.31" fill="#710000"/><rect x="116.96" y="274.09" width="18.79" height="4.71" fill="#aa0000"/><rect x="116.96" y="278.30" width="18.79" height="4.71" fill="#c60000"/><rect x="116.96" y="282.52" width="18.79" height="3.31" fill="#390000"/><rect x="116.96" y="285.33" width="18.79" height="3.31" fill="#8e0000"/><rect x="116.96" y="288.13" width="18.79" height="4.01" fill="#aa0000"/><rect x="116.96" y="291.65" width="18.79" height="3.31" fill="#710000"/><rect x="116.96" y="294.46" width="18.79" height="4.01" fill="#8e0000"/><rect x="116.96" y="297.97" width="18.79" height="4.01" fill="#710000"/><rect x="116.96" y="301.48" width="18.79" height="4.01" fill="#aa0000"/><rect x="116.96" y="304.99" width="18.79" height="3.31" fill="#8e0000"/><rect x="116.96" y="307.80" width="18.79" height="3.31" fill="#710000"/><rect x="116.96" y="310.61" width="18.79" height="3.31" fill="#550000"/><rect x="116.96" y="313.42" width="18.79" height="3.31" fill="#8e0000"/><rect x="116.96" y="316.22" width="18.79" height="3.31" fill="#aa0000"/><rect x="116.96" y="319.03" width="18.79" height="4.01" fill="#710000"/><rect x="116.96" y="322.54" width="18.79" height="4.01" fill="#8e0000"/><rect x="116.96" y="326.06" width="18.79" height="4.71" fill="#550000"/><rect x="116.96" y="330.27" width="18.79" height="4.01" fill="#e30000"/><rect x="116.96" y="333.78" width="18.79" height="2.75" fill="#710000"/><rect x="135.25" y="246.00" width="18.79" height="3.31" fill="#710000"/><rect x="135.25" y="248.81" width="18.79" height="3.31" fill="#390000"/><rect x="135.25" y="251.62" width="18.79" height="2.61" fill="#1c0000"/><rect x="135.25" y="253.72" width="18.79" height="4.01" fill="#550000"/><rect x="135.25" y="257.24" width="18.79" height="3.31" fill="#710000"/><rect x="135.25" y="260.04" width="18.79" height="4.01" fill="#550000"/><rect x="135.25" y="263.56" width="18.79" height="1.90" fill="#8e0000"/><rect x="135.25" y="264.96" width="18.79" height="4.01" fill="#550000"/><rect x="135.25" y="268.47" width="18.79" height="4.01" fill="#390000"/><rect x="135.25" y="271.98" width="18.79" height="2.61" fill="#710000"/><rect x="135.25" y="274.09" width="18.79" height="3.31" fill="#503700"/><rect x="135.25" y="276.90" width="18.79" height="3.31" fill="#550000"/><rect x="135.25" y="279.71" width="18.79" height="2.61" fill="#000000"/><rect x="135.25" y="281.81" width="18.79" height="2.61" fill="#390000"/><rect x="135.25" y="283.92" width="18.79" height="4.01" fill="#8e0000"/><rect x="135.25" y="287.43" width="18.79" height="3.31" fill="#710000"/><rect x="135.25" y="290.24" width="18.79" height="2.61" fill="#2d2800"/><rect x="135.25" y="292.35" width="18.79" height="4.01" fill="#710000"/><rect x="135.25" y="295.86" width="18.79" height="3.31" fill="#550000"/><rect x="135.25" y="298.67" width="18.79" height="3.31" fill="#710000"/><rect x="135.25" y="301.48" width="18.79" height="4.01" fill="#390000"/><rect x="135.25" y="304.99" width="18.79" height="4.01" fill="#550000"/><rect x="135.25" y="308.50" width="18.79" height="4.01" fill="#710000"/><rect x="135.25" y="312.01" width="18.79" height="4.01" fill="#390000"/><rect x="135.25" y="315.52" width="18.79" height="4.01" fill="#550000"/><rect x="135.25" y="319.03" width="18.79" height="4.01" fill="#390000"/><rect x="135.25" y="322.54" width="18.79" height="4.71" fill="#550000"/><rect x="135.25" y="326.76" width="18.79" height="4.01" fill="#1c0000"/><rect x="135.25" y="330.27" width="18.79" height="6.26" fill="#550000"/><rect x="153.54" y="246.00" width="18.79" height="3.31" fill="#710000"/><rect x="153.54" y="248.81" width="18.79" height="3.31" fill="#550000"/><rect x="153.54" y="251.62" width="18.79" height="3.31" fill="#390000"/><rect x="153.54" y="254.43" width="18.79" height="3.31" fill="#aa0000"/><rect x="153.54" y="257.24" width="18.79" height="3.31" fill="#8e0000"/><rect x="153.54" y="260.04" width="18.79" height="3.31" fill="#c60000"/><rect x="153.54" y="262.85" width="18.79" height="2.61" fill="#550000"/><rect x="153.54" y="264.96" width="18.79" height="4.01" fill="#c60000"/><rect x="153.54" y="268.47" width="18.79" height="3.31" fill="#8e0000"/><rect x="153.54" y="271.28" width="18.79" height="3.31" fill="#550000"/><rect x="153.54" y="274.09" width="18.79" height="4.71" fill="#aa0000"/><rect x="153.54" y="278.30" width="18.79" height="4.71" fill="#c60000"/><rect x="153.54" y="282.52" width="18.79" height="3.31" fill="#550000"/><rect x="153.54" y="285.33" width="18.79" height="3.31" fill="#8e0000"/><rect x="153.54" y="288.13" width="18.79" height="4.01" fill="#aa0000"/><rect x="153.54" y="291.65" width="18.79" height="3.31" fill="#550000"/><rect x="153.54" y="294.46" width="18.79" height="4.01" fill="#8e0000"/><rect x="153.54" y="297.97" width="18.79" height="3.31" fill="#c60000"/><rect x="153.54" y="300.78" width="18.79" height="3.31" fill="#710000"/><rect x="153.54" y="303.58" width="18.79" height="3.31" fill="#8e0000"/><rect x="153.54" y="306.39" width="18.79" height="2.61" fill="#550000"/><rect x="153.54" y="308.50" width="18.79" height="4.01" fill="#390000"/><rect x="153.54" y="312.01" width="18.79" height="3.31" fill="#8e0000"/><rect x="153.54" y="314.82" width="18.79" height="3.31" fill="#550000"/><rect x="153.54" y="317.63" width="18.79" height="3.31" fill="#710000"/><rect x="153.54" y="320.44" width="18.79" height="2.61" fill="#aa0000"/><rect x="153.54" y="322.54" width="18.79" height="4.01" fill="#8e0000"/><rect x="153.54" y="326.06" width="18.79" height="4.01" fill="#aa0000"/><rect x="153.54" y="329.57" width="18.79" height="4.01" fill="#550000"/><rect x="153.54" y="333.08" width="18.79" height="3.45" fill="#aa0000"/><rect x="171.83" y="246.00" width="18.79" height="2.61" fill="#002d00"/><rect x="171.83" y="248.11" width="18.79" height="3.31" fill="#1c0000"/><rect x="171.83" y="250.92" width="18.79" height="3.31" fill="#001400"/><rect x="171.83" y="253.72" width="18.79" height="3.31" fill="#00a000"/><rect x="171.83" y="256.53" width="18.79" height="3.31" fill="#000000"/><rect x="171.83" y="259.34" width="18.79" height="3.31" fill="#1c0000"/><rect x="171.83" y="262.15" width="18.79" height="2.61" fill="#390000"/><rect x="171.83" y="264.26" width="18.79" height="7.52" fill="#000000"/><rect x="171.83" y="271.28" width="18.79" height="3.31" fill="#006400"/><rect x="171.83" y="274.09" width="18.79" height="2.61" fill="#1c0000"/><rect x="171.83" y="276.20" width="18.79" height="6.82" fill="#000000"/><rect x="171.83" y="282.52" width="18.79" height="4.01" fill="#1c0000"/><rect x="171.83" y="286.03" width="18.79" height="2.61" fill="#002d00"/><rect x="171.83" y="288.13" width="18.79" height="3.31" fill="#000000"/><rect x="171.83" y="290.94" width="18.79" height="4.01" fill="#002d00"/><rect x="171.83" y="294.46" width="18.79" height="5.42" fill="#001400"/><rect x="171.83" y="299.37" width="18.79" height="3.31" fill="#000000"/><rect x="171.83" y="302.18" width="18.79" height="2.61" fill="#004800"/><rect x="171.83" y="304.29" width="18.79" height="4.01" fill="#1c0000"/><rect x="171.83" y="307.80" width="18.79" height="3.31" fill="#002d00"/><rect x="171.83" y="310.61" width="18.79" height="3.31" fill="#000000"/><rect x="171.83" y="313.42" width="18.79" height="3.31" fill="#1c0000"/><rect x="171.83" y="316.22" width="18.79" height="3.31" fill="#001400"/><rect x="171.83" y="319.03" width="18.79" height="3.31" fill="#002d00"/><rect x="171.83" y="321.84" width="18.79" height="3.31" fill="#000000"/><rect x="171.83" y="324.65" width="18.79" height="4.71" fill="#001400"/><rect x="171.83" y="328.87" width="18.79" height="3.31" fill="#002d00"/><rect x="171.83" y="331.67" width="18.79" height="4.85" fill="#004800"/><rect x="43.80" y="336.00" width="18.79" height="3.31" fill="#002d00"/><rect x="43.80" y="338.81" width="18.79" height="3.31" fill="#006400"/><rect x="43.80" y="341.62" width="18.79" height="8.93" fill="#001400"/><rect x="43.80" y="350.04" width="18.79" height="4.01" fill="#002d00"/><rect x="43.80" y="353.56" width="18.79" height="5.42" fill="#004800"/><rect x="43.80" y="358.47" width="18.79" height="3.31" fill="#001400"/><rect x="43.80" y="361.28" width="18.79" height="3.31" fill="#008200"/><rect x="43.80" y="364.09" width="18.79" height="4.01" fill="#002d00"/><rect x="43.80" y="367.60" width="18.79" height="3.31" fill="#006400"/><rect x="43.80" y="370.41" width="18.79" height="2.75" fill="#00bf00"/><rect x="43.80" y="372.66" width="18.79" height="5.98" fill="#2d2800"/><rect x="43.80" y="378.13" width="18.79" height="3.31" fill="#1c0000"/><rect x="43.80" y="380.94" width="18.79" height="3.31" fill="#aa0000"/><rect x="43.80" y="383.75" width="18.79" height="3.31" fill="#390000"/><rect x="43.80" y="386.56" width="18.79" height="4.71" fill="#8e0000"/><rect x="43.80" y="390.78" width="18.79" height="3.31" fill="#550000"/><rect x="43.80" y="393.58" width="18.79" height="4.71" fill="#710000"/><rect x="43.80" y="397.80" width="18.79" height="3.31" fill="#390000"/><rect x="43.80" y="400.61" width="18.79" height="2.61" fill="#2d2800"/><rect x="43.80" y="402.71" width="18.79" height="4.01" fill="#8e0000"/><rect x="43.80" y="406.22" width="18.79" height="3.31" fill="#550000"/><rect x="43.80" y="409.03" width="18.79" height="3.31" fill="#390000"/><rect x="43.80" y="411.84" width="18.79" height="3.31" fill="#8e0000"/><rect x="43.80" y="414.65" width="18.79" height="3.31" fill="#550000"/><rect x="43.80" y="417.46" width="18.79" height="3.31" fill="#710000"/><rect x="43.80" y="420.27" width="18.79" height="3.31" fill="#1c0000"/><rect x="43.80" y="423.08" width="18.79" height="3.45" fill="#00a000"/><rect x="62.09" y="336.00" width="18.79" height="3.31" fill="#006400"/><rect x="62.09" y="338.81" width="18.79" height="1.90" fill="#00a000"/><rect x="62.09" y="340.21" width="18.79" height="4.01" fill="#004800"/><rect x="62.09" y="343.72" width="18.79" height="3.31" fill="#001400"/><rect x="62.09" y="346.53" width="18.79" height="5.42" fill="#00bf00"/><rect x="62.09" y="351.45" width="18.79" height="3.31" fill="#006400"/><rect x="62.09" y="354.26" width="18.79" height="4.71" fill="#004800"/><rect x="62.09" y="358.47" width="18.79" height="2.61" fill="#002d00"/><rect x="62.09" y="360.58" width="18.79" height="2.61" fill="#008200"/><rect x="62.09" y="362.69" width="18.79" height="2.61" fill="#001400"/><rect x="62.09" y="364.79" width="18.79" height="1.90" fill="#00a000"/><rect x="62.09" y="366.20" width="18.79" height="3.31" fill="#002d00"/><rect x="62.09" y="369.01" width="18.79" height="4.15" fill="#00a000"/><rect x="62.09" y="372.66" width="18.79" height="3.17" fill="#001400"/><rect x="62.09" y="375.33" width="18.79" height="3.31" fill="#390000"/><rect x="62.09" y="378.13" width="18.79" height="3.31" fill="#550000"/><rect x="62.09" y="380.94" width="18.79" height="3.31" fill="#8e0000"/><rect x="62.09" y="383.75" width="18.79" height="3.31" fill="#390000"/><rect x="62.09" y="386.56" width="18.79" height="2.61" fill="#710000"/><rect x="62.09" y="388.67" width="18.79" height="3.31" fill="#aa0000"/><rect x="62.09" y="391.48" width="18.79" height="2.61" fill="#550000"/><rect x="62.09" y="393.58" width="18.79" height="3.31" fill="#390000"/><rect x="62.09" y="396.39" width="18.79" height="2.61" fill="#550000"/><rect x="62.09" y="398.50" width="18.79" height="2.61" fill="#710000"/><rect x="62.09" y="400.61" width="18.79" height="3.31" fill="#390000"/><rect x="62.09" y="403.42" width="18.79" height="6.12" fill="#710000"/><rect x="62.09" y="409.03" width="18.79" height="3.31" fill="#1c0000"/><rect x="62.09" y="411.84" width="18.79" height="3.31" fill="#390000"/><rect x="62.09" y="414.65" width="18.79" height="2.61" fill="#aa0000"/><rect x="62.09" y="416.76" width="18.79" height="4.01" fill="#1c0000"/><rect x="62.09" y="420.27" width="18.79" height="3.31" fill="#710000"/><rect x="62.09" y="423.08" width="18.79" height="3.45" fill="#390000"/><rect x="80.38" y="336.00" width="18.79" height="4.01" fill="#001400"/><rect x="80.38" y="339.51" width="18.79" height="4.71" fill="#000000"/><rect x="80.38" y="343.72" width="18.79" height="2.61" fill="#002d00"/><rect x="80.38" y="345.83" width="18.79" height="7.52" fill="#2d2800"/><rect x="80.38" y="352.85" width="18.79" height="3.31" fill="#002d00"/><rect x="80.38" y="355.66" width="18.79" height="3.31" fill="#001400"/><rect x="80.38" y="358.47" width="18.79" height="3.31" fill="#002d00"/><rect x="80.38" y="361.28" width="18.79" height="2.61" fill="#006400"/><rect x="80.38" y="363.39" width="18.79" height="2.61" fill="#001400"/><rect x="80.38" y="365.49" width="18.79" height="2.61" fill="#000000"/><rect x="80.38" y="367.60" width="18.79" height="4.01" fill="#00bf00"/><rect x="80.38" y="371.11" width="18.79" height="2.04" fill="#008200"/><rect x="80.38" y="372.66" width="18.79" height="3.17" fill="#1c0000"/><rect x="80.38" y="375.33" width="18.79" height="3.31" fill="#1c0000"/><rect x="80.38" y="378.13" width="18.79" height="3.31" fill="#550000"/><rect x="80.38" y="380.94" width="18.79" height="4.01" fill="#503700"/><rect x="80.38" y="384.46" width="18.79" height="3.31" fill="#1c0000"/><rect x="80.38" y="387.26" width="18.79" height="3.31" fill="#2d2800"/><rect x="80.38" y="390.07" width="18.79" height="3.31" fill="#390000"/><rect x="80.38" y="392.88" width="18.79" height="2.61" fill="#710000"/><rect x="80.38" y="394.99" width="18.79" height="3.31" fill="#1c0000"/><rect x="80.38" y="397.80" width="18.79" height="3.31" fill="#550000"/><rect x="80.38" y="400.61" width="18.79" height="3.31" fill="#390000"/><rect x="80.38" y="403.42" width="18.79" height="6.12" fill="#002d00"/><rect x="80.38" y="409.03" width="18.79" height="4.01" fill="#390000"/><rect x="80.38" y="412.54" width="18.79" height="2.61" fill="#1c0000"/><rect x="80.38" y="414.65" width="18.79" height="3.31" fill="#001400"/><rect x="80.38" y="417.46" width="18.79" height="3.31" fill="#550000"/><rect x="80.38" y="420.27" width="18.79" height="3.31" fill="#390000"/><rect x="80.38" y="423.08" width="18.79" height="3.45" fill="#001400"/><rect x="98.67" y="336.00" width="18.79" height="2.61" fill="#008200"/><rect x="98.67" y="338.11" width="18.79" height="3.31" fill="#00bf00"/><rect x="98.67" y="340.92" width="18.79" height="3.31" fill="#006400"/><rect x="98.67" y="343.72" width="18.79" height="3.31" fill="#001400"/><rect x="98.67" y="346.53" width="18.79" height="3.31" fill="#00bf00"/><rect x="98.67" y="349.34" width="18.79" height="3.31" fill="#006400"/><rect x="98.67" y="352.15" width="18.79" height="3.31" fill="#00a000"/><rect x="98.67" y="354.96" width="18.79" height="3.31" fill="#004800"/><rect x="98.67" y="357.77" width="18.79" height="2.61" fill="#00a000"/><rect x="98.67" y="359.88" width="18.79" height="2.61" fill="#001400"/><rect x="98.67" y="361.98" width="18.79" height="2.61" fill="#008200"/><rect x="98.67" y="364.09" width="18.79" height="2.61" fill="#00bf00"/><rect x="98.67" y="366.20" width="18.79" height="3.31" fill="#004800"/><rect x="98.67" y="369.01" width="18.79" height="4.15" fill="#ff0000"/><rect x="98.67" y="372.66" width="18.79" height="2.47" fill="#ff0000"/><rect x="98.67" y="374.62" width="18.79" height="2.61" fill="#390000"/><rect x="98.67" y="376.73" width="18.79" height="4.71" fill="#550000"/><rect x="98.67" y="380.94" width="18.79" height="4.01" fill="#1c0000"/><rect x="98.67" y="384.46" width="18.79" height="3.31" fill="#550000"/><rect x="98.67" y="387.26" width="18.79" height="3.31" fill="#1c0000"/><rect x="98.67" y="390.07" width="18.79" height="4.01" fill="#390000"/><rect x="98.67" y="393.58" width="18.79" height="2.61" fill="#710000"/><rect x="98.67" y="395.69" width="18.79" height="2.61" fill="#550000"/><rect x="98.67" y="397.80" width="18.79" height="3.31" fill="#aa0000"/><rect x="98.67" y="400.61" width="18.79" height="2.61" fill="#550000"/><rect x="98.67" y="402.71" width="18.79" height="4.01" fill="#c60000"/><rect x="98.67" y="406.22" width="18.79" height="3.31" fill="#710000"/><rect x="98.67" y="409.03" width="18.79" height="3.31" fill="#390000"/><rect x="98.67" y="411.84" width="18.79" height="3.31" fill="#8e0000"/><rect x="98.67" y="414.65" width="18.79" height="2.61" fill="#390000"/><rect x="98.67" y="416.76" width="18.79" height="4.01" fill="#710000"/><rect x="98.67" y="420.27" width="18.79" height="3.31" fill="#390000"/><rect x="98.67" y="423.08" width="18.79" height="3.45" fill="#550000"/><rect x="116.96" y="336.00" width="18.79" height="4.01" fill="#aa0000"/><rect x="116.96" y="339.51" width="18.79" height="3.31" fill="#8e0000"/><rect x="116.96" y="342.32" width="18.79" height="4.71" fill="#e30000"/><rect x="116.96" y="346.53" width="18.79" height="4.01" fill="#aa0000"/><rect x="116.96" y="350.04" width="18.79" height="4.01" fill="#c60000"/><rect x="116.96" y="353.56" width="18.79" height="4.01" fill="#8e0000"/><rect x="116.96" y="357.07" width="18.79" height="4.01" fill="#c60000"/><rect x="116.96" y="360.58" width="18.79" height="4.01" fill="#aa0000"/><rect x="116.96" y="364.09" width="18.79" height="4.01" fill="#c60000"/><rect x="116.96" y="367.60" width="18.79" height="3.31" fill="#8e0000"/><rect x="116.96" y="370.41" width="18.79" height="2.75" fill="#e30000"/><rect x="116.96" y="372.66" width="18.79" height="4.57" fill="#00a000"/><rect x="116.96" y="376.73" width="18.79" height="3.31" fill="#008200"/><rect x="116.96" y="379.54" width="18.79" height="3.31" fill="#00a000"/><rect x="116.96" y="382.35" width="18.79" height="3.31" fill="#004800"/><rect x="116.96" y="385.16" width="18.79" height="1.90" fill="#00bf00"/><rect x="116.96" y="386.56" width="18.79" height="3.31" fill="#004800"/><rect x="116.96" y="389.37" width="18.79" height="3.31" fill="#008200"/><rect x="116.96" y="392.18" width="18.79" height="3.31" fill="#002d00"/><rect x="116.96" y="394.99" width="18.79" height="4.01" fill="#00a000"/><rect x="116.96" y="398.50" width="18.79" height="2.61" fill="#004800"/><rect x="116.96" y="400.61" width="18.79" height="3.31" fill="#002d00"/><rect x="116.96" y="403.42" width="18.79" height="3.31" fill="#006400"/><rect x="116.96" y="406.22" width="18.79" height="3.31" fill="#001400"/><rect x="116.96" y="409.03" width="18.79" height="3.31" fill="#00a000"/><rect x="116.96" y="411.84" width="18.79" height="3.31" fill="#004800"/><rect x="116.96" y="414.65" width="18.79" height="3.31" fill="#002d00"/><rect x="116.96" y="417.46" width="18.79" height="3.31" fill="#008200"/><rect x="116.96" y="420.27" width="18.79" height="3.31" fill="#004800"/><rect x="116.96" y="423.08" width="18.79" height="3.45" fill="#550000"/><rect x="135.25" y="336.00" width="18.79" height="4.01" fill="#550000"/><rect x="135.25" y="339.51" width="18.79" height="3.31" fill="#390000"/><rect x="135.25" y="342.32" width="18.79" height="4.01" fill="#710000"/><rect x="135.25" y="345.83" width="18.79" height="4.01" fill="#390000"/><rect x="135.25" y="349.34" width="18.79" height="4.01" fill="#550000"/><rect x="135.25" y="352.85" width="18.79" height="4.01" fill="#1c0000"/><rect x="135.25" y="356.37" width="18.79" height="4.01" fill="#550000"/><rect x="135.25" y="359.88" width="18.79" height="3.31" fill="#390000"/><rect x="135.25" y="362.69" width="18.79" height="4.01" fill="#710000"/><rect x="135.25" y="366.20" width="18.79" height="4.01" fill="#550000"/><rect x="135.25" y="369.71" width="18.79" height="2.61" fill="#710000"/><rect x="135.25" y="371.81" width="18.79" height="3.31" fill="#78961e"/><rect x="135.25" y="374.62" width="18.79" height="2.61" fill="#004800"/><rect x="135.25" y="376.73" width="18.79" height="3.31" fill="#006400"/><rect x="135.25" y="379.54" width="18.79" height="4.01" fill="#00a000"/><rect x="135.25" y="383.05" width="18.79" height="4.01" fill="#002d00"/><rect x="135.25" y="386.56" width="18.79" height="4.01" fill="#006400"/><rect x="135.25" y="390.07" width="18.79" height="2.61" fill="#008200"/><rect x="135.25" y="392.18" width="18.79" height="3.31" fill="#001400"/><rect x="135.25" y="394.99" width="18.79" height="3.31" fill="#000000"/><rect x="135.25" y="397.80" width="18.79" height="3.31" fill="#008200"/><rect x="135.25" y="400.61" width="18.79" height="3.31" fill="#004800"/><rect x="135.25" y="403.42" width="18.79" height="3.31" fill="#002d00"/><rect x="135.25" y="406.22" width="18.79" height="4.71" fill="#00a000"/><rect x="135.25" y="410.44" width="18.79" height="3.31" fill="#002d00"/><rect x="135.25" y="413.25" width="18.79" height="3.31" fill="#001400"/><rect x="135.25" y="416.06" width="18.79" height="3.31" fill="#008200"/><rect x="135.25" y="418.87" width="18.79" height="3.31" fill="#002d00"/><rect x="135.25" y="421.67" width="18.79" height="3.31" fill="#006400"/><rect x="135.25" y="424.48" width="18.79" height="2.04" fill="#390000"/><rect x="153.54" y="336.00" width="18.79" height="3.31" fill="#aa0000"/><rect x="153.54" y="338.81" width="18.79" height="3.31" fill="#8e0000"/><rect x="153.54" y="341.62" width="18.79" height="3.31" fill="#c60000"/><rect x="153.54" y="344.43" width="18.79" height="3.31" fill="#8e0000"/><rect x="153.54" y="347.24" width="18.79" height="4.71" fill="#710000"/><rect x="153.54" y="351.45" width="18.79" height="4.01" fill="#aa0000"/><rect x="153.54" y="354.96" width="18.79" height="3.31" fill="#8e0000"/><rect x="153.54" y="357.77" width="18.79" height="3.31" fill="#c60000"/><rect x="153.54" y="360.58" width="18.79" height="3.31" fill="#004800"/><rect x="153.54" y="363.39" width="18.79" height="3.31" fill="#8e0000"/><rect x="153.54" y="366.20" width="18.79" height="2.61" fill="#c60000"/><rect x="153.54" y="368.30" width="18.79" height="2.61" fill="#8e0000"/><rect x="153.54" y="370.41" width="18.79" height="2.75" fill="#001400"/><rect x="153.54" y="372.66" width="18.79" height="2.47" fill="#1c0000"/><rect x="153.54" y="374.62" width="18.79" height="5.42" fill="#00a000"/><rect x="153.54" y="379.54" width="18.79" height="3.31" fill="#002d00"/><rect x="153.54" y="382.35" width="18.79" height="2.61" fill="#001400"/><rect x="153.54" y="384.46" width="18.79" height="4.01" fill="#00df00"/><rect x="153.54" y="387.97" width="18.79" height="3.31" fill="#004800"/><rect x="153.54" y="390.78" width="18.79" height="4.71" fill="#002d00"/><rect x="153.54" y="394.99" width="18.79" height="3.31" fill="#001400"/><rect x="153.54" y="397.80" width="18.79" height="3.31" fill="#006400"/><rect x="153.54" y="400.61" width="18.79" height="3.31" fill="#002d00"/><rect x="153.54" y="403.42" width="18.79" height="3.31" fill="#008200"/><rect x="153.54" y="406.22" width="18.79" height="2.61" fill="#002d00"/><rect x="153.54" y="408.33" width="18.79" height="2.61" fill="#00a000"/><rect x="153.54" y="410.44" width="18.79" height="2.61" fill="#001400"/><rect x="153.54" y="412.54" width="18.79" height="2.61" fill="#002d00"/><rect x="153.54" y="414.65" width="18.79" height="3.31" fill="#000000"/><rect x="153.54" y="417.46" width="18.79" height="3.31" fill="#004800"/><rect x="153.54" y="420.27" width="18.79" height="3.31" fill="#002d00"/><rect x="153.54" y="423.08" width="18.79" height="3.45" fill="#00df00"/><rect x="171.83" y="336.00" width="18.79" height="3.31" fill="#002d00"/><rect x="171.83" y="338.81" width="18.79" height="3.31" fill="#390000"/><rect x="171.83" y="341.62" width="18.79" height="3.31" fill="#001400"/><rect x="171.83" y="344.43" width="18.79" height="2.61" fill="#1c0000"/><rect x="171.83" y="346.53" width="18.79" height="3.31" fill="#004800"/><rect x="171.83" y="349.34" width="18.79" height="3.31" fill="#000000"/><rect x="171.83" y="352.15" width="18.79" height="4.01" fill="#1c0000"/><rect x="171.83" y="355.66" width="18.79" height="3.31" fill="#000000"/><rect x="171.83" y="358.47" width="18.79" height="2.61" fill="#78961e"/><rect x="171.83" y="360.58" width="18.79" height="2.61" fill="#550000"/><rect x="171.83" y="362.69" width="18.79" height="1.90" fill="#78961e"/><rect x="171.83" y="364.09" width="18.79" height="2.61" fill="#008200"/><rect x="171.83" y="366.20" width="18.79" height="3.31" fill="#1c0000"/><rect x="171.83" y="369.01" width="18.79" height="2.61" fill="#550000"/><rect x="171.83" y="371.11" width="18.79" height="3.31" fill="#82641e"/><rect x="171.83" y="373.92" width="18.79" height="3.31" fill="#000000"/><rect x="171.83" y="376.73" width="18.79" height="4.71" fill="#1c0000"/><rect x="171.83" y="380.94" width="18.79" height="3.31" fill="#000000"/><rect x="171.83" y="383.75" width="18.79" height="3.31" fill="#552d00"/><rect x="171.83" y="386.56" width="18.79" height="3.31" fill="#503700"/><rect x="171.83" y="389.37" width="18.79" height="3.31" fill="#001400"/><rect x="171.83" y="392.18" width="18.79" height="3.31" fill="#004800"/><rect x="171.83" y="394.99" width="18.79" height="3.31" fill="#1c0000"/><rect x="171.83" y="397.80" width="18.79" height="2.61" fill="#004800"/><rect x="171.83" y="399.90" width="18.79" height="3.31" fill="#001400"/><rect x="171.83" y="402.71" width="18.79" height="3.31" fill="#006400"/><rect x="171.83" y="405.52" width="18.79" height="2.61" fill="#002d00"/><rect x="171.83" y="407.63" width="18.79" height="3.31" fill="#008200"/><rect x="171.83" y="410.44" width="18.79" height="2.61" fill="#002d00"/><rect x="171.83" y="412.54" width="18.79" height="2.61" fill="#006400"/><rect x="171.83" y="414.65" width="18.79" height="2.61" fill="#00bf00"/><rect x="171.83" y="416.76" width="18.79" height="2.61" fill="#002d00"/><rect x="171.83" y="418.87" width="18.79" height="3.31" fill="#008200"/><rect x="171.83" y="421.67" width="18.79" height="2.61" fill="#002d00"/><rect x="171.83" y="423.78" width="18.79" height="2.75" fill="#006400"/><rect x="43.80" y="425.97" width="18.79" height="1.06" fill="#00bf00"/><rect x="43.80" y="426.53" width="18.79" height="3.31" fill="#550000"/><rect x="43.80" y="429.34" width="18.79" height="2.61" fill="#710000"/><rect x="43.80" y="431.45" width="18.79" height="3.31" fill="#550000"/><rect x="43.80" y="434.26" width="18.79" height="3.31" fill="#390000"/><rect x="43.80" y="437.07" width="18.79" height="2.61" fill="#2d2800"/><rect x="43.80" y="439.17" width="18.79" height="2.61" fill="#550000"/><rect x="43.80" y="441.28" width="18.79" height="2.61" fill="#8e0000"/><rect x="43.80" y="443.39" width="18.79" height="3.31" fill="#008200"/><rect x="43.80" y="446.20" width="18.79" height="4.01" fill="#710000"/><rect x="43.80" y="449.71" width="18.79" height="4.15" fill="#550000"/><rect x="62.09" y="425.97" width="18.79" height="1.06" fill="#390000"/><rect x="62.09" y="426.53" width="18.79" height="3.31" fill="#550000"/><rect x="62.09" y="429.34" width="18.79" height="2.61" fill="#390000"/><rect x="62.09" y="431.45" width="18.79" height="3.31" fill="#710000"/><rect x="62.09" y="434.26" width="18.79" height="3.31" fill="#8e0000"/><rect x="62.09" y="437.07" width="18.79" height="4.01" fill="#390000"/><rect x="62.09" y="440.58" width="18.79" height="3.31" fill="#1c0000"/><rect x="62.09" y="443.39" width="18.79" height="3.31" fill="#c60000"/><rect x="62.09" y="446.20" width="18.79" height="4.01" fill="#390000"/><rect x="62.09" y="449.71" width="18.79" height="4.15" fill="#550000"/><rect x="80.38" y="425.97" width="18.79" height="1.06" fill="#002d00"/><rect x="80.38" y="426.53" width="18.79" height="3.31" fill="#710000"/><rect x="80.38" y="429.34" width="18.79" height="2.61" fill="#390000"/><rect x="80.38" y="431.45" width="18.79" height="2.61" fill="#550000"/><rect x="80.38" y="433.56" width="18.79" height="3.31" fill="#e30000"/><rect x="80.38" y="436.37" width="18.79" height="3.31" fill="#710000"/><rect x="80.38" y="439.17" width="18.79" height="3.31" fill="#390000"/><rect x="80.38" y="441.98" width="18.79" height="2.61" fill="#550000"/><rect x="80.38" y="444.09" width="18.79" height="2.61" fill="#8e0000"/><rect x="80.38" y="446.20" width="18.79" height="4.01" fill="#550000"/><rect x="80.38" y="449.71" width="18.79" height="4.15" fill="#c60000"/><rect x="98.67" y="425.97" width="18.79" height="1.76" fill="#710000"/><rect x="98.67" y="427.24" width="18.79" height="3.31" fill="#8e0000"/><rect x="98.67" y="430.04" width="18.79" height="2.61" fill="#550000"/><rect x="98.67" y="432.15" width="18.79" height="4.01" fill="#004800"/><rect x="98.67" y="435.66" width="18.79" height="2.61" fill="#710000"/><rect x="98.67" y="437.77" width="18.79" height="3.31" fill="#e30000"/><rect x="98.67" y="440.58" width="18.79" height="3.31" fill="#550000"/><rect x="98.67" y="443.39" width="18.79" height="3.31" fill="#390000"/><rect x="98.67" y="446.20" width="18.79" height="3.31" fill="#aa0000"/><rect x="98.67" y="449.01" width="18.79" height="4.85" fill="#8e0000"/><rect x="116.96" y="425.97" width="18.79" height="1.06" fill="#390000"/><rect x="116.96" y="426.53" width="18.79" height="3.31" fill="#004800"/><rect x="116.96" y="429.34" width="18.79" height="3.31" fill="#002d00"/><rect x="116.96" y="432.15" width="18.79" height="4.01" fill="#390000"/><rect x="116.96" y="435.66" width="18.79" height="3.31" fill="#006400"/><rect x="116.96" y="438.47" width="18.79" height="3.31" fill="#008200"/><rect x="116.96" y="441.28" width="18.79" height="3.31" fill="#004800"/><rect x="116.96" y="444.09" width="18.79" height="2.61" fill="#390000"/><rect x="116.96" y="446.20" width="18.79" height="4.71" fill="#008200"/><rect x="116.96" y="450.41" width="18.79" height="3.45" fill="#004800"/><rect x="135.25" y="425.97" width="18.79" height="1.06" fill="#710000"/><rect x="135.25" y="426.53" width="18.79" height="3.31" fill="#004800"/><rect x="135.25" y="429.34" width="18.79" height="2.61" fill="#002d00"/><rect x="135.25" y="431.45" width="18.79" height="4.71" fill="#00df00"/><rect x="135.25" y="435.66" width="18.79" height="3.31" fill="#002d00"/><rect x="135.25" y="438.47" width="18.79" height="3.31" fill="#004800"/><rect x="135.25" y="441.28" width="18.79" height="2.61" fill="#001400"/><rect x="135.25" y="443.39" width="18.79" height="3.31" fill="#00bf00"/><rect x="135.25" y="446.20" width="18.79" height="3.31" fill="#004800"/><rect x="135.25" y="449.01" width="18.79" height="3.31" fill="#00a000"/><rect x="135.25" y="451.81" width="18.79" height="2.04" fill="#002d00"/><rect x="153.54" y="425.97" width="18.79" height="1.76" fill="#00df00"/><rect x="153.54" y="427.24" width="18.79" height="3.31" fill="#002d00"/><rect x="153.54" y="430.04" width="18.79" height="3.31" fill="#001400"/><rect x="153.54" y="432.85" width="18.79" height="3.31" fill="#006400"/><rect x="153.54" y="435.66" width="18.79" height="4.01" fill="#004800"/><rect x="153.54" y="439.17" width="18.79" height="3.31" fill="#001400"/><rect x="153.54" y="441.98" width="18.79" height="3.31" fill="#00a000"/><rect x="153.54" y="444.79" width="18.79" height="3.31" fill="#006400"/><rect x="153.54" y="447.60" width="18.79" height="4.01" fill="#001400"/><rect x="153.54" y="451.11" width="18.79" height="2.75" fill="#004800"/><rect x="171.83" y="425.97" width="18.79" height="1.76" fill="#00df00"/><rect x="171.83" y="427.24" width="18.79" height="2.61" fill="#004800"/><rect x="171.83" y="429.34" width="18.79" height="2.61" fill="#00a000"/><rect x="171.83" y="431.45" width="18.79" height="3.31" fill="#002d00"/><rect x="171.83" y="434.26" width="18.79" height="4.71" fill="#550000"/><rect x="171.83" y="438.47" width="18.79" height="3.31" fill="#004800"/><rect x="171.83" y="441.28" width="18.79" height="3.31" fill="#001400"/><rect x="171.83" y="444.09" width="18.79" height="3.31" fill="#004800"/><rect x="171.83" y="446.90" width="18.79" height="3.31" fill="#00a000"/><rect x="171.83" y="449.71" width="18.79" height="4.15" fill="#00df00"/></g></g><text x="3.0" y="31.6" font-size="15" font-weight="bold" font-family="Liberation Sans, Arial, sans-serif">A</text><text x="59.8" y="10.9" font-size="9.4" font-weight="bold" font-family="Liberation Sans, Arial, sans-serif">CONTROL</text><text x="128.6" y="12.0" font-size="9.3" font-weight="bold" font-family="Liberation Sans, Arial, sans-serif">LMO2 stable</text><text x="129.6" y="23.0" font-size="9.2" font-weight="bold" font-family="Liberation Sans, Arial, sans-serif">transfection</text><text transform="translate(27.10,62.50) rotate(-90)" font-size="9.3" fill="#111" font-family="Liberation Sans, Arial, sans-serif">Mean</text><text transform="translate(38.60,62.40) rotate(-90)" font-size="8.7" fill="#111" font-family="Liberation Sans, Arial, sans-serif">delta</text><text transform="translate(56.10,62.90) rotate(-90)" font-size="9.1" fill="#111" font-family="Liberation Sans, Arial, sans-serif">Control 1</text><text transform="translate(74.39,62.90) rotate(-90)" font-size="9.1" fill="#111" font-family="Liberation Sans, Arial, sans-serif">Control 2</text><text transform="translate(92.68,62.90) rotate(-90)" font-size="9.1" fill="#111" font-family="Liberation Sans, Arial, sans-serif">Control 3</text><text transform="translate(110.97,62.90) rotate(-90)" font-size="9.1" fill="#111" font-family="Liberation Sans, Arial, sans-serif">Control 4</text><text transform="translate(129.26,62.90) rotate(-90)" font-size="9.0" fill="#111" font-family="Liberation Sans, Arial, sans-serif">LMO2 1</text><text transform="translate(147.55,62.90) rotate(-90)" font-size="9.0" fill="#111" font-family="Liberation Sans, Arial, sans-serif">LMO2 2</text><text transform="translate(165.84,62.90) rotate(-90)" font-size="9.0" fill="#111" font-family="Liberation Sans, Arial, sans-serif">LMO2 3</text><text transform="translate(184.13,62.90) rotate(-90)" font-size="9.0" fill="#111" font-family="Liberation Sans, Arial, sans-serif">LMO2 4</text><text x="210.6" y="420.3" font-size="9" fill="#222" font-family="Liberation Sans, Arial, sans-serif">log2 expression</text><rect x="210.70" y="424.7" width="9.0" height="8.5" fill="#00e600"/><rect x="219.60" y="424.7" width="9.0" height="8.5" fill="#00a800"/><rect x="228.50" y="424.7" width="9.0" height="8.5" fill="#006000"/><rect x="237.40" y="424.7" width="9.0" height="8.5" fill="#000000"/><rect x="246.30" y="424.7" width="9.0" height="8.5" fill="#5a0000"/><rect x="255.20" y="424.7" width="9.0" height="8.5" fill="#b40000"/><rect x="264.10" y="424.7" width="9.0" height="8.5" fill="#ff0000"/><text x="210.8" y="441.5" font-size="8.8" fill="#222" font-family="Liberation Sans, Arial, sans-serif">-1</text><text x="239.6" y="441.5" font-size="8.8" fill="#222" font-family="Liberation Sans, Arial, sans-serif">0</text><text x="265.2" y="441.5" font-size="8.8" fill="#222" font-family="Liberation Sans, Arial, sans-serif">+1</text><text x="279.0" y="29.7" font-size="14.8" font-weight="bold" font-family="Liberation Sans, Arial, sans-serif">B</text><line x1="397.45" y1="66.4" x2="397.45" y2="342" stroke="#9a9a9a" stroke-width="0.9"/><line x1="434.60" y1="66.4" x2="434.60" y2="342" stroke="#9a9a9a" stroke-width="0.9"/><line x1="471.75" y1="66.4" x2="471.75" y2="342" stroke="#9a9a9a" stroke-width="0.9"/><line x1="508.90" y1="66.4" x2="508.90" y2="342" stroke="#9a9a9a" stroke-width="0.9"/><line x1="360.30" y1="66.4" x2="360.30" y2="342" stroke="#8a8a8a" stroke-width="0.9"/><line x1="356.80" y1="66.70" x2="360.30" y2="66.70" stroke="#8a8a8a" stroke-width="0.9"/><line x1="356.80" y1="82.95" x2="360.30" y2="82.95" stroke="#8a8a8a" stroke-width="0.9"/><line x1="356.80" y1="99.20" x2="360.30" y2="99.20" stroke="#8a8a8a" stroke-width="0.9"/><line x1="356.80" y1="115.45" x2="360.30" y2="115.45" stroke="#8a8a8a" stroke-width="0.9"/><line x1="356.80" y1="131.70" x2="360.30" y2="131.70" stroke="#8a8a8a" stroke-width="0.9"/><line x1="356.80" y1="147.95" x2="360.30" y2="147.95" stroke="#8a8a8a" stroke-width="0.9"/><line x1="356.80" y1="164.20" x2="360.30" y2="164.20" stroke="#8a8a8a" stroke-width="0.9"/><line x1="356.80" y1="180.45" x2="360.30" y2="180.45" stroke="#8a8a8a" stroke-width="0.9"/><line x1="356.80" y1="196.70" x2="360.30" y2="196.70" stroke="#8a8a8a" stroke-width="0.9"/><line x1="356.80" y1="212.95" x2="360.30" y2="212.95" stroke="#8a8a8a" stroke-width="0.9"/><line x1="356.80" y1="229.20" x2="360.30" y2="229.20" stroke="#8a8a8a" stroke-width="0.9"/><line x1="356.80" y1="245.45" x2="360.30" y2="245.45" stroke="#8a8a8a" stroke-width="0.9"/><line x1="356.80" y1="261.70" x2="360.30" y2="261.70" stroke="#8a8a8a" stroke-width="0.9"/><line x1="356.80" y1="277.95" x2="360.30" y2="277.95" stroke="#8a8a8a" stroke-width="0.9"/><line x1="356.80" y1="294.20" x2="360.30" y2="294.20" stroke="#8a8a8a" stroke-width="0.9"/><line x1="356.80" y1="310.45" x2="360.30" y2="310.45" stroke="#8a8a8a" stroke-width="0.9"/><line x1="356.80" y1="326.70" x2="360.30" y2="326.70" stroke="#8a8a8a" stroke-width="0.9"/><line x1="356.80" y1="342.95" x2="360.30" y2="342.95" stroke="#8a8a8a" stroke-width="0.9"/><line x1="356.80" y1="342.9" x2="509.2" y2="342.9" stroke="#8a8a8a" stroke-width="0.9"/><line x1="360.30" y1="342.9" x2="360.30" y2="345.5" stroke="#8a8a8a" stroke-width="0.9"/><line x1="397.45" y1="342.9" x2="397.45" y2="345.5" stroke="#8a8a8a" stroke-width="0.9"/><line x1="434.60" y1="342.9" x2="434.60" y2="345.5" stroke="#8a8a8a" stroke-width="0.9"/><line x1="471.75" y1="342.9" x2="471.75" y2="345.5" stroke="#8a8a8a" stroke-width="0.9"/><line x1="508.90" y1="342.9" x2="508.90" y2="345.5" stroke="#8a8a8a" stroke-width="0.9"/><rect x="360.80" y="71.55" width="122.80" height="6.3" fill="#5f5f5f"/><text x="352.0" y="78.15" font-size="8.2" fill="#1e1e1e" stroke="#1e1e1e" stroke-width="0.12" text-anchor="end" font-family="Liberation Sans, Arial, sans-serif">chromosome</text><rect x="360.80" y="87.80" width="78.70" height="6.3" fill="#5f5f5f"/><text x="352.0" y="94.40" font-size="8.2" fill="#1e1e1e" stroke="#1e1e1e" stroke-width="0.12" text-anchor="end" font-family="Liberation Sans, Arial, sans-serif">nucleosome</text><rect x="360.80" y="104.05" width="75.20" height="6.3" fill="#5f5f5f"/><text x="352.0" y="105.90" font-size="8.2" fill="#1e1e1e" stroke="#1e1e1e" stroke-width="0.12" text-anchor="end" font-family="Liberation Sans, Arial, sans-serif">condensed chromosome</text><text x="352.0" y="115.90" font-size="8.2" fill="#1e1e1e" stroke="#1e1e1e" stroke-width="0.12" text-anchor="end" font-family="Liberation Sans, Arial, sans-serif">kinetochore</text><rect x="360.80" y="120.30" width="71.70" height="6.3" fill="#5f5f5f"/><text x="352.0" y="126.90" font-size="8.2" fill="#1e1e1e" stroke="#1e1e1e" stroke-width="0.12" text-anchor="end" font-family="Liberation Sans, Arial, sans-serif">protein -DNA complex assembly</text><rect x="360.80" y="136.55" width="69.70" height="6.3" fill="#5f5f5f"/><text x="352.0" y="143.15" font-size="8.2" fill="#1e1e1e" stroke="#1e1e1e" stroke-width="0.12" text-anchor="end" font-family="Liberation Sans, Arial, sans-serif">chromatin assembly</text><rect x="360.80" y="152.80" width="69.20" height="6.3" fill="#5f5f5f"/><text x="352.0" y="159.40" font-size="8.2" fill="#1e1e1e" stroke="#1e1e1e" stroke-width="0.12" text-anchor="end" font-family="Liberation Sans, Arial, sans-serif">mitosis</text><rect x="360.80" y="169.05" width="69.20" height="6.3" fill="#5f5f5f"/><text x="352.0" y="175.65" font-size="8.2" fill="#1e1e1e" stroke="#1e1e1e" stroke-width="0.12" text-anchor="end" font-family="Liberation Sans, Arial, sans-serif">nuclear division</text><rect x="360.80" y="185.30" width="68.20" height="6.3" fill="#5f5f5f"/><text x="352.0" y="191.90" font-size="8.2" fill="#1e1e1e" stroke="#1e1e1e" stroke-width="0.12" text-anchor="end" font-family="Liberation Sans, Arial, sans-serif">kinetochore</text><rect x="360.80" y="201.55" width="65.70" height="6.3" fill="#5f5f5f"/><text x="352.0" y="208.15" font-size="8.2" fill="#1e1e1e" stroke="#1e1e1e" stroke-width="0.12" text-anchor="end" font-family="Liberation Sans, Arial, sans-serif">cell cycle</text><rect x="360.80" y="217.80" width="62.70" height="6.3" fill="#5f5f5f"/><text x="352.0" y="224.40" font-size="8.2" fill="#1e1e1e" stroke="#1e1e1e" stroke-width="0.12" text-anchor="end" font-family="Liberation Sans, Arial, sans-serif">chromosome segregation</text><rect x="360.80" y="234.05" width="55.20" height="6.3" fill="#5f5f5f"/><text x="352.0" y="240.65" font-size="8.2" fill="#1e1e1e" stroke="#1e1e1e" stroke-width="0.12" text-anchor="end" font-family="Liberation Sans, Arial, sans-serif">cell division</text><rect x="360.80" y="250.30" width="49.20" height="6.3" fill="#5f5f5f"/><text x="352.0" y="256.90" font-size="8.2" fill="#1e1e1e" stroke="#1e1e1e" stroke-width="0.12" text-anchor="end" font-family="Liberation Sans, Arial, sans-serif">chromatin</text><rect x="360.80" y="266.55" width="27.70" height="6.3" fill="#5f5f5f"/><text x="352.0" y="273.15" font-size="8.2" fill="#1e1e1e" stroke="#1e1e1e" stroke-width="0.12" text-anchor="end" font-family="Liberation Sans, Arial, sans-serif">response to DNA damage</text><rect x="360.80" y="282.80" width="26.70" height="6.3" fill="#5f5f5f"/><text x="352.0" y="289.40" font-size="8.2" fill="#1e1e1e" stroke="#1e1e1e" stroke-width="0.12" text-anchor="end" font-family="Liberation Sans, Arial, sans-serif">microtubule</text><rect x="360.80" y="299.05" width="23.20" height="6.3" fill="#5f5f5f"/><text x="352.0" y="305.65" font-size="8.2" fill="#1e1e1e" stroke="#1e1e1e" stroke-width="0.12" text-anchor="end" font-family="Liberation Sans, Arial, sans-serif">cellular response to stress</text><rect x="360.80" y="315.30" width="10.70" height="6.3" fill="#5f5f5f"/><text x="352.0" y="321.90" font-size="8.2" fill="#1e1e1e" stroke="#1e1e1e" stroke-width="0.12" text-anchor="end" font-family="Liberation Sans, Arial, sans-serif">transcription</text><rect x="360.80" y="331.55" width="10.20" height="6.3" fill="#5f5f5f"/><text x="352.0" y="333.40" font-size="8.2" fill="#1e1e1e" stroke="#1e1e1e" stroke-width="0.12" text-anchor="end" font-family="Liberation Sans, Arial, sans-serif">regulation of I-κβ kinase/</text><text x="352.0" y="343.40" font-size="8.2" fill="#1e1e1e" stroke="#1e1e1e" stroke-width="0.12" text-anchor="end" font-family="Liberation Sans, Arial, sans-serif">NF-κβ cascade</text><text x="360.90" y="355.0" font-size="9.2" fill="#2a2a2a" text-anchor="middle" font-family="Liberation Sans, Arial, sans-serif">0</text><text x="398.05" y="355.0" font-size="9.2" fill="#2a2a2a" text-anchor="middle" font-family="Liberation Sans, Arial, sans-serif">10</text><text x="435.20" y="355.0" font-size="9.2" fill="#2a2a2a" text-anchor="middle" font-family="Liberation Sans, Arial, sans-serif">20</text><text x="472.35" y="355.0" font-size="9.2" fill="#2a2a2a" text-anchor="middle" font-family="Liberation Sans, Arial, sans-serif">30</text><text x="509.50" y="355.0" font-size="9.2" fill="#2a2a2a" text-anchor="middle" font-family="Liberation Sans, Arial, sans-serif">40</text><rect x="445.6" y="321" width="4.4" height="3.8" fill="#5f5f5f"/><text x="452.4" y="326.0" font-size="8.5" fill="#262626" font-family="Liberation Sans, Arial, sans-serif">-log(p-value)</text><line x1="82.10" y1="494.30" x2="109.10" y2="554.30" stroke="#9c9c9c" stroke-width="0.8"/><line x1="119.00" y1="489.20" x2="109.10" y2="554.30" stroke="#9c9c9c" stroke-width="0.8"/><line x1="119.00" y1="489.20" x2="165.40" y2="547.70" stroke="#9c9c9c" stroke-width="0.8"/><line x1="47.20" y1="525.40" x2="109.10" y2="554.30" stroke="#9c9c9c" stroke-width="0.8"/><line x1="80.40" y1="528.20" x2="109.10" y2="554.30" stroke="#9c9c9c" stroke-width="0.8"/><line x1="109.20" y1="527.10" x2="109.10" y2="554.30" stroke="#9c9c9c" stroke-width="0.8"/><line x1="109.20" y1="527.10" x2="139.30" y2="559.60" stroke="#9c9c9c" stroke-width="0.8"/><line x1="109.20" y1="527.10" x2="165.40" y2="547.70" stroke="#9c9c9c" stroke-width="0.8"/><line x1="46.30" y1="561.30" x2="109.10" y2="554.30" stroke="#9c9c9c" stroke-width="0.8"/><line x1="47.50" y1="598.30" x2="85.60" y2="566.00" stroke="#9c9c9c" stroke-width="0.8"/><line x1="138.10" y1="520.80" x2="109.10" y2="554.30" stroke="#9c9c9c" stroke-width="0.8"/><line x1="138.10" y1="520.80" x2="165.40" y2="547.70" stroke="#9c9c9c" stroke-width="0.8"/><line x1="138.10" y1="520.80" x2="139.30" y2="559.60" stroke="#9c9c9c" stroke-width="0.8"/><line x1="138.10" y1="520.80" x2="170.50" y2="575.00" stroke="#9c9c9c" stroke-width="0.8"/><line x1="138.10" y1="520.80" x2="145.50" y2="586.60" stroke="#9c9c9c" stroke-width="0.8"/><line x1="169.20" y1="507.70" x2="165.40" y2="547.70" stroke="#9c9c9c" stroke-width="0.8"/><line x1="169.20" y1="507.70" x2="109.10" y2="554.30" stroke="#9c9c9c" stroke-width="0.8"/><line x1="169.20" y1="507.70" x2="170.50" y2="575.00" stroke="#9c9c9c" stroke-width="0.8"/><line x1="199.90" y1="526.80" x2="109.10" y2="554.30" stroke="#9c9c9c" stroke-width="0.8"/><line x1="199.90" y1="526.80" x2="165.40" y2="547.70" stroke="#9c9c9c" stroke-width="0.8"/><line x1="199.90" y1="526.80" x2="170.50" y2="575.00" stroke="#9c9c9c" stroke-width="0.8"/><line x1="199.90" y1="526.80" x2="197.40" y2="476.10" stroke="#9c9c9c" stroke-width="0.8"/><line x1="199.90" y1="526.80" x2="139.30" y2="559.60" stroke="#9c9c9c" stroke-width="0.8"/><line x1="229.90" y1="522.20" x2="170.50" y2="575.00" stroke="#9c9c9c" stroke-width="0.8"/><line x1="238.40" y1="578.10" x2="170.50" y2="575.00" stroke="#9c9c9c" stroke-width="0.8"/><line x1="203.00" y1="553.80" x2="165.40" y2="547.70" stroke="#9c9c9c" stroke-width="0.8"/><line x1="203.00" y1="553.80" x2="188.70" y2="602.50" stroke="#9c9c9c" stroke-width="0.8"/><line x1="203.00" y1="553.80" x2="109.10" y2="554.30" stroke="#9c9c9c" stroke-width="0.8"/><line x1="109.10" y1="554.30" x2="85.60" y2="566.00" stroke="#9c9c9c" stroke-width="0.8"/><line x1="109.10" y1="554.30" x2="165.40" y2="547.70" stroke="#9c9c9c" stroke-width="0.8"/><line x1="109.10" y1="554.30" x2="170.50" y2="575.00" stroke="#9c9c9c" stroke-width="0.8"/><line x1="109.10" y1="554.30" x2="145.50" y2="586.60" stroke="#9c9c9c" stroke-width="0.8"/><line x1="109.10" y1="554.30" x2="103.50" y2="593.00" stroke="#9c9c9c" stroke-width="0.8"/><line x1="109.10" y1="554.30" x2="188.70" y2="602.50" stroke="#9c9c9c" stroke-width="0.8"/><line x1="109.10" y1="554.30" x2="106.20" y2="620.20" stroke="#9c9c9c" stroke-width="0.8"/><line x1="109.10" y1="554.30" x2="132.20" y2="613.70" stroke="#9c9c9c" stroke-width="0.8"/><line x1="109.10" y1="554.30" x2="159.50" y2="613.80" stroke="#9c9c9c" stroke-width="0.8"/><line x1="165.40" y1="547.70" x2="170.50" y2="575.00" stroke="#9c9c9c" stroke-width="0.8"/><line x1="165.40" y1="547.70" x2="145.50" y2="586.60" stroke="#9c9c9c" stroke-width="0.8"/><line x1="165.40" y1="547.70" x2="188.70" y2="602.50" stroke="#9c9c9c" stroke-width="0.8"/><line x1="165.40" y1="547.70" x2="103.50" y2="593.00" stroke="#9c9c9c" stroke-width="0.8"/><line x1="165.40" y1="547.70" x2="106.20" y2="620.20" stroke="#9c9c9c" stroke-width="0.8"/><line x1="165.40" y1="547.70" x2="132.20" y2="613.70" stroke="#9c9c9c" stroke-width="0.8"/><line x1="165.40" y1="547.70" x2="139.30" y2="559.60" stroke="#9c9c9c" stroke-width="0.8"/><line x1="170.50" y1="575.00" x2="188.70" y2="602.50" stroke="#9c9c9c" stroke-width="0.8"/><line x1="170.50" y1="575.00" x2="145.50" y2="586.60" stroke="#9c9c9c" stroke-width="0.8"/><line x1="170.50" y1="575.00" x2="159.50" y2="613.80" stroke="#9c9c9c" stroke-width="0.8"/><line x1="145.50" y1="586.60" x2="188.70" y2="602.50" stroke="#9c9c9c" stroke-width="0.8"/><line x1="145.50" y1="586.60" x2="103.50" y2="593.00" stroke="#9c9c9c" stroke-width="0.8"/><line x1="145.50" y1="586.60" x2="106.20" y2="620.20" stroke="#9c9c9c" stroke-width="0.8"/><line x1="145.50" y1="586.60" x2="142.50" y2="641.60" stroke="#9c9c9c" stroke-width="0.8"/><line x1="145.50" y1="586.60" x2="187.00" y2="629.50" stroke="#9c9c9c" stroke-width="0.8"/><line x1="145.50" y1="586.60" x2="132.20" y2="613.70" stroke="#9c9c9c" stroke-width="0.8"/><line x1="188.70" y1="602.50" x2="217.20" y2="609.50" stroke="#9c9c9c" stroke-width="0.8"/><line x1="188.70" y1="602.50" x2="187.00" y2="629.50" stroke="#9c9c9c" stroke-width="0.8"/><line x1="188.70" y1="602.50" x2="191.50" y2="660.40" stroke="#9c9c9c" stroke-width="0.8"/><line x1="188.70" y1="602.50" x2="159.50" y2="613.80" stroke="#9c9c9c" stroke-width="0.8"/><line x1="188.70" y1="602.50" x2="132.20" y2="613.70" stroke="#9c9c9c" stroke-width="0.8"/><line x1="188.70" y1="602.50" x2="106.20" y2="620.20" stroke="#9c9c9c" stroke-width="0.8"/><line x1="103.50" y1="593.00" x2="106.20" y2="620.20" stroke="#9c9c9c" stroke-width="0.8"/><line x1="103.50" y1="593.00" x2="71.00" y2="634.80" stroke="#9c9c9c" stroke-width="0.8"/><line x1="103.50" y1="593.00" x2="77.30" y2="601.40" stroke="#9c9c9c" stroke-width="0.8"/><line x1="77.30" y1="601.40" x2="109.10" y2="554.30" stroke="#9c9c9c" stroke-width="0.8"/><line x1="106.20" y1="620.20" x2="71.00" y2="634.80" stroke="#9c9c9c" stroke-width="0.8"/><line x1="106.20" y1="620.20" x2="94.60" y2="676.40" stroke="#9c9c9c" stroke-width="0.8"/><line x1="106.20" y1="620.20" x2="132.20" y2="613.70" stroke="#9c9c9c" stroke-width="0.8"/><line x1="106.20" y1="620.20" x2="187.00" y2="629.50" stroke="#9c9c9c" stroke-width="0.8"/><line x1="106.20" y1="620.20" x2="142.50" y2="641.60" stroke="#9c9c9c" stroke-width="0.8"/><line x1="132.20" y1="613.70" x2="142.50" y2="641.60" stroke="#9c9c9c" stroke-width="0.8"/><line x1="132.20" y1="613.70" x2="187.00" y2="629.50" stroke="#9c9c9c" stroke-width="0.8"/><line x1="159.50" y1="613.80" x2="142.50" y2="641.60" stroke="#9c9c9c" stroke-width="0.8"/><line x1="159.50" y1="613.80" x2="187.00" y2="629.50" stroke="#9c9c9c" stroke-width="0.8"/><line x1="142.50" y1="641.60" x2="71.00" y2="634.80" stroke="#9c9c9c" stroke-width="0.8"/><line x1="142.50" y1="641.60" x2="156.60" y2="669.50" stroke="#9c9c9c" stroke-width="0.8"/><line x1="142.50" y1="641.60" x2="138.80" y2="698.50" stroke="#9c9c9c" stroke-width="0.8"/><line x1="142.50" y1="641.60" x2="191.50" y2="660.40" stroke="#9c9c9c" stroke-width="0.8"/><line x1="187.00" y1="629.50" x2="191.50" y2="660.40" stroke="#9c9c9c" stroke-width="0.8"/><line x1="156.60" y1="669.50" x2="191.50" y2="660.40" stroke="#9c9c9c" stroke-width="0.8"/><line x1="156.60" y1="669.50" x2="138.80" y2="698.50" stroke="#9c9c9c" stroke-width="0.8"/><line x1="71.00" y1="634.80" x2="35.00" y2="656.30" stroke="#9c9c9c" stroke-width="0.8"/><line x1="85.60" y1="566.00" x2="103.50" y2="593.00" stroke="#9c9c9c" stroke-width="0.8"/><line x1="85.60" y1="566.00" x2="145.50" y2="586.60" stroke="#9c9c9c" stroke-width="0.8"/><line x1="139.30" y1="559.60" x2="188.70" y2="602.50" stroke="#9c9c9c" stroke-width="0.8"/><line x1="139.30" y1="559.60" x2="145.50" y2="586.60" stroke="#9c9c9c" stroke-width="0.8"/><line x1="138.10" y1="520.80" x2="203.00" y2="553.80" stroke="#9c9c9c" stroke-width="0.8"/><line x1="85.60" y1="566.00" x2="139.30" y2="559.60" stroke="#9c9c9c" stroke-width="0.8"/><line x1="109.20" y1="527.10" x2="145.50" y2="586.60" stroke="#9c9c9c" stroke-width="0.8"/><line x1="169.20" y1="507.70" x2="145.50" y2="586.60" stroke="#9c9c9c" stroke-width="0.8"/><path d="M106.72 549.01L104.34 546.90L106.72 545.83z" fill="#5e5e5e"/><path d="M109.97 548.57L109.12 545.50L111.69 545.89z" fill="#5e5e5e"/><path d="M162.54 544.10L159.72 542.63L161.76 541.02z" fill="#5e5e5e"/><path d="M103.84 551.85L100.67 551.80L101.77 549.44z" fill="#5e5e5e"/><path d="M104.81 550.40L101.79 549.41L103.54 547.48z" fill="#5e5e5e"/><path d="M109.12 548.50L107.83 545.60L110.43 545.60z" fill="#5e5e5e"/><path d="M135.70 555.71L132.77 554.47L134.68 552.70z" fill="#5e5e5e"/><path d="M161.08 546.12L157.91 546.34L158.81 543.90z" fill="#5e5e5e"/><path d="M103.34 554.94L100.60 556.56L100.31 553.97z" fill="#5e5e5e"/><path d="M81.56 569.43L80.19 572.29L78.50 570.31z" fill="#5e5e5e"/><path d="M112.90 549.91L113.81 546.87L115.78 548.57z" fill="#5e5e5e"/><path d="M162.12 544.47L159.15 543.36L160.97 541.51z" fill="#5e5e5e"/><path d="M139.14 554.30L137.75 551.44L140.35 551.36z" fill="#5e5e5e"/><path d="M167.78 570.45L165.18 568.63L167.41 567.29z" fill="#5e5e5e"/><path d="M144.87 581.04L143.26 578.30L145.84 578.01z" fill="#5e5e5e"/><path d="M165.84 543.12L164.82 540.11L167.40 540.36z" fill="#5e5e5e"/><path d="M113.68 550.75L115.18 547.94L116.77 550.00z" fill="#5e5e5e"/><path d="M170.40 569.70L169.04 566.83L171.64 566.78z" fill="#5e5e5e"/><path d="M114.65 552.62L117.05 550.53L117.80 553.02z" fill="#5e5e5e"/><path d="M169.33 545.32L171.14 542.70L172.49 544.93z" fill="#5e5e5e"/><path d="M173.26 570.48L173.66 567.32L175.88 568.68z" fill="#5e5e5e"/><path d="M197.62 480.49L199.06 483.33L196.46 483.46z" fill="#5e5e5e"/><path d="M143.96 557.08L145.89 554.55L147.13 556.84z" fill="#5e5e5e"/><path d="M174.46 571.48L175.77 568.58L177.49 570.52z" fill="#5e5e5e"/><path d="M175.79 575.24L178.75 574.08L178.63 576.67z" fill="#5e5e5e"/><path d="M169.94 548.44L173.01 547.62L172.60 550.18z" fill="#5e5e5e"/><path d="M190.19 597.41L189.76 594.27L192.26 595.00z" fill="#5e5e5e"/><path d="M114.90 554.27L117.79 552.95L117.81 555.55z" fill="#5e5e5e"/><path d="M90.34 563.64L92.36 561.18L93.52 563.51z" fill="#5e5e5e"/><path d="M160.83 548.24L158.10 549.86L157.80 547.28z" fill="#5e5e5e"/><path d="M165.48 573.31L162.31 573.61L163.15 571.15z" fill="#5e5e5e"/><path d="M141.31 582.88L138.28 581.93L140.01 579.99z" fill="#5e5e5e"/><path d="M104.17 588.35L103.30 585.29L105.88 585.66z" fill="#5e5e5e"/><path d="M184.17 599.75L181.01 599.36L182.36 597.14z" fill="#5e5e5e"/><path d="M106.44 614.81L105.27 611.85L107.86 611.97z" fill="#5e5e5e"/><path d="M130.24 608.67L127.98 606.44L130.40 605.49z" fill="#5e5e5e"/><path d="M156.27 609.98L153.40 608.61L155.39 606.93z" fill="#5e5e5e"/><path d="M169.53 569.79L167.72 567.18L170.27 566.70z" fill="#5e5e5e"/><path d="M148.05 581.61L148.21 578.44L150.53 579.62z" fill="#5e5e5e"/><path d="M186.63 597.62L184.30 595.46L186.69 594.45z" fill="#5e5e5e"/><path d="M107.29 590.22L108.87 587.46L110.40 589.56z" fill="#5e5e5e"/><path d="M109.62 616.02L110.44 612.95L112.46 614.59z" fill="#5e5e5e"/><path d="M134.63 608.88L134.77 605.70L137.09 606.87z" fill="#5e5e5e"/><path d="M144.12 557.40L146.22 555.02L147.30 557.38z" fill="#5e5e5e"/><path d="M185.77 598.08L183.09 596.38L185.26 594.94z" fill="#5e5e5e"/><path d="M150.58 584.24L152.66 581.84L153.76 584.20z" fill="#5e5e5e"/><path d="M160.86 608.99L160.40 605.84L162.91 606.55z" fill="#5e5e5e"/><path d="M183.73 600.67L180.56 600.89L181.45 598.45z" fill="#5e5e5e"/><path d="M108.15 592.29L110.82 590.57L111.21 593.14z" fill="#5e5e5e"/><path d="M110.30 616.69L111.66 613.82L113.35 615.79z" fill="#5e5e5e"/><path d="M142.79 636.31L141.65 633.34L144.24 633.48z" fill="#5e5e5e"/><path d="M183.52 625.91L180.57 624.73L182.44 622.92z" fill="#5e5e5e"/><path d="M134.58 608.85L134.69 605.68L137.02 606.82z" fill="#5e5e5e"/><path d="M211.96 608.21L208.83 608.78L209.45 606.26z" fill="#5e5e5e"/><path d="M187.31 624.51L186.20 621.53L188.79 621.70z" fill="#5e5e5e"/><path d="M191.24 655.01L189.80 652.17L192.40 652.05z" fill="#5e5e5e"/><path d="M164.16 612.00L166.40 609.74L167.34 612.16z" fill="#5e5e5e"/><path d="M137.50 612.65L140.09 610.81L140.59 613.36z" fill="#5e5e5e"/><path d="M111.48 619.07L114.04 617.19L114.59 619.73z" fill="#5e5e5e"/><path d="M105.67 614.83L104.09 612.07L106.67 611.81z" fill="#5e5e5e"/><path d="M75.30 629.27L76.05 626.19L78.10 627.78z" fill="#5e5e5e"/><path d="M81.87 599.93L84.24 597.81L85.03 600.29z" fill="#5e5e5e"/><path d="M105.85 559.11L105.31 562.24L103.15 560.78z" fill="#5e5e5e"/><path d="M77.47 632.12L79.65 629.81L80.64 632.21z" fill="#5e5e5e"/><path d="M95.61 671.50L94.92 668.40L97.47 668.93z" fill="#5e5e5e"/><path d="M126.96 615.01L124.46 616.97L123.83 614.45z" fill="#5e5e5e"/><path d="M182.03 628.93L179.00 629.89L179.30 627.31z" fill="#5e5e5e"/><path d="M137.93 638.91L134.78 638.56L136.10 636.32z" fill="#5e5e5e"/><path d="M140.66 636.63L138.44 634.36L140.88 633.46z" fill="#5e5e5e"/><path d="M182.20 628.11L179.05 628.56L179.77 626.06z" fill="#5e5e5e"/><path d="M145.27 637.08L145.67 633.93L147.89 635.28z" fill="#5e5e5e"/><path d="M182.66 627.02L179.49 626.71L180.78 624.45z" fill="#5e5e5e"/><path d="M77.97 635.46L80.98 634.44L80.73 637.03z" fill="#5e5e5e"/><path d="M154.25 664.86L151.79 662.86L154.11 661.68z" fill="#5e5e5e"/><path d="M139.12 693.51L138.02 690.53L140.61 690.70z" fill="#5e5e5e"/><path d="M186.46 658.47L183.29 658.64L184.22 656.21z" fill="#5e5e5e"/><path d="M190.72 655.06L189.02 652.37L191.59 652.00z" fill="#5e5e5e"/><path d="M186.27 661.76L183.80 663.75L183.14 661.24z" fill="#5e5e5e"/><path d="M141.42 694.24L141.82 691.09L144.04 692.45z" fill="#5e5e5e"/><path d="M39.64 653.53L41.46 650.93L42.79 653.16z" fill="#5e5e5e"/><path d="M100.90 589.08L98.22 587.38L100.38 585.95z" fill="#5e5e5e"/><path d="M140.20 584.78L137.04 585.07L137.88 582.61z" fill="#5e5e5e"/><path d="M184.70 599.02L181.66 598.10L183.36 596.14z" fill="#5e5e5e"/><path d="M144.25 581.14L142.33 578.61L144.86 578.02z" fill="#5e5e5e"/><path d="M198.28 551.40L195.10 551.24L196.28 548.92z" fill="#5e5e5e"/><path d="M134.04 560.23L131.31 561.86L131.00 559.28z" fill="#5e5e5e"/><path d="M142.58 581.82L139.96 580.02L142.18 578.67z" fill="#5e5e5e"/><path d="M147.11 581.24L146.70 578.09L149.19 578.83z" fill="#5e5e5e"/><line x1="385.00" y1="583.50" x2="344.80" y2="547.30" stroke="#9c9c9c" stroke-width="0.8"/><line x1="385.00" y1="583.50" x2="377.50" y2="557.00" stroke="#9c9c9c" stroke-width="0.8"/><line x1="385.00" y1="583.50" x2="407.50" y2="541.30" stroke="#9c9c9c" stroke-width="0.8"/><line x1="385.00" y1="583.50" x2="438.50" y2="525.00" stroke="#9c9c9c" stroke-width="0.8"/><line x1="385.00" y1="583.50" x2="434.00" y2="554.50" stroke="#9c9c9c" stroke-width="0.8"/><line x1="385.00" y1="583.50" x2="358.30" y2="584.20" stroke="#9c9c9c" stroke-width="0.8"/><line x1="385.00" y1="583.50" x2="331.30" y2="574.30" stroke="#9c9c9c" stroke-width="0.8"/><line x1="385.00" y1="583.50" x2="416.00" y2="584.90" stroke="#9c9c9c" stroke-width="0.8"/><line x1="416.00" y1="584.90" x2="447.50" y2="585.30" stroke="#9c9c9c" stroke-width="0.8"/><line x1="385.00" y1="583.50" x2="373.50" y2="611.30" stroke="#9c9c9c" stroke-width="0.8"/><line x1="385.00" y1="583.50" x2="403.00" y2="617.00" stroke="#9c9c9c" stroke-width="0.8"/><line x1="385.00" y1="583.50" x2="433.00" y2="618.00" stroke="#9c9c9c" stroke-width="0.8"/><line x1="385.00" y1="583.50" x2="347.50" y2="618.30" stroke="#9c9c9c" stroke-width="0.8"/><line x1="385.00" y1="583.50" x2="379.30" y2="643.80" stroke="#9c9c9c" stroke-width="0.8"/><line x1="374.40" y1="526.00" x2="377.50" y2="557.00" stroke="#9c9c9c" stroke-width="0.8"/><line x1="374.40" y1="526.00" x2="343.80" y2="503.30" stroke="#9c9c9c" stroke-width="0.8"/><line x1="374.40" y1="526.00" x2="378.00" y2="487.50" stroke="#9c9c9c" stroke-width="0.8"/><line x1="343.80" y1="503.30" x2="344.80" y2="547.30" stroke="#9c9c9c" stroke-width="0.8"/><line x1="343.80" y1="503.30" x2="316.30" y2="519.30" stroke="#9c9c9c" stroke-width="0.8"/><line x1="316.30" y1="519.30" x2="344.80" y2="547.30" stroke="#9c9c9c" stroke-width="0.8"/><line x1="344.80" y1="547.30" x2="331.30" y2="574.30" stroke="#9c9c9c" stroke-width="0.8"/><line x1="415.00" y1="498.80" x2="407.50" y2="541.30" stroke="#9c9c9c" stroke-width="0.8"/><line x1="407.50" y1="541.30" x2="416.00" y2="584.90" stroke="#9c9c9c" stroke-width="0.8"/><line x1="438.50" y1="525.00" x2="407.50" y2="541.30" stroke="#9c9c9c" stroke-width="0.8"/><line x1="438.50" y1="525.00" x2="434.00" y2="554.50" stroke="#9c9c9c" stroke-width="0.8"/><line x1="438.50" y1="525.00" x2="466.30" y2="551.30" stroke="#9c9c9c" stroke-width="0.8"/><line x1="476.30" y1="515.00" x2="466.30" y2="551.30" stroke="#9c9c9c" stroke-width="0.8"/><line x1="466.30" y1="551.30" x2="499.50" y2="558.80" stroke="#9c9c9c" stroke-width="0.8"/><line x1="466.30" y1="551.30" x2="447.50" y2="585.30" stroke="#9c9c9c" stroke-width="0.8"/><line x1="447.50" y1="585.30" x2="479.60" y2="593.70" stroke="#9c9c9c" stroke-width="0.8"/><line x1="433.00" y1="618.00" x2="447.50" y2="585.30" stroke="#9c9c9c" stroke-width="0.8"/><line x1="433.00" y1="618.00" x2="416.00" y2="584.90" stroke="#9c9c9c" stroke-width="0.8"/><line x1="433.00" y1="618.00" x2="470.20" y2="627.00" stroke="#9c9c9c" stroke-width="0.8"/><line x1="433.00" y1="618.00" x2="454.00" y2="656.20" stroke="#9c9c9c" stroke-width="0.8"/><line x1="433.00" y1="618.00" x2="422.70" y2="654.30" stroke="#9c9c9c" stroke-width="0.8"/><line x1="379.30" y1="643.80" x2="357.00" y2="675.00" stroke="#9c9c9c" stroke-width="0.8"/><line x1="379.30" y1="643.80" x2="391.00" y2="679.00" stroke="#9c9c9c" stroke-width="0.8"/><line x1="326.30" y1="648.80" x2="347.50" y2="618.30" stroke="#9c9c9c" stroke-width="0.8"/><line x1="304.40" y1="558.80" x2="277.00" y2="571.20" stroke="#9c9c9c" stroke-width="0.8"/><line x1="304.40" y1="558.80" x2="331.30" y2="574.30" stroke="#9c9c9c" stroke-width="0.8"/><line x1="304.40" y1="558.80" x2="289.60" y2="598.30" stroke="#9c9c9c" stroke-width="0.8"/><line x1="304.40" y1="558.80" x2="316.50" y2="601.50" stroke="#9c9c9c" stroke-width="0.8"/><line x1="277.00" y1="571.20" x2="331.30" y2="574.30" stroke="#9c9c9c" stroke-width="0.8"/><line x1="277.00" y1="571.20" x2="289.60" y2="598.30" stroke="#9c9c9c" stroke-width="0.8"/><line x1="277.00" y1="571.20" x2="316.50" y2="601.50" stroke="#9c9c9c" stroke-width="0.8"/><line x1="331.30" y1="574.30" x2="289.60" y2="598.30" stroke="#9c9c9c" stroke-width="0.8"/><line x1="331.30" y1="574.30" x2="316.50" y2="601.50" stroke="#9c9c9c" stroke-width="0.8"/><line x1="289.60" y1="598.30" x2="316.50" y2="601.50" stroke="#9c9c9c" stroke-width="0.8"/><line x1="289.60" y1="598.30" x2="286.30" y2="635.00" stroke="#9c9c9c" stroke-width="0.8"/><line x1="434.00" y1="554.50" x2="385.00" y2="583.50" stroke="#9c9c9c" stroke-width="0.8"/><path d="M348.37 550.51L351.39 551.49L349.65 553.42z" fill="#5e5e5e"/><path d="M378.92 562.00L380.96 564.44L378.45 565.15z" fill="#5e5e5e"/><path d="M405.48 545.09L405.26 548.26L402.97 547.04z" fill="#5e5e5e"/><path d="M435.13 528.69L434.13 531.71L432.21 529.95z" fill="#5e5e5e"/><path d="M429.53 557.15L427.69 559.74L426.37 557.51z" fill="#5e5e5e"/><path d="M363.30 584.07L366.16 582.69L366.23 585.29z" fill="#5e5e5e"/><path d="M336.62 575.21L339.70 574.42L339.26 576.98z" fill="#5e5e5e"/><path d="M406.61 584.48L403.65 585.64L403.77 583.05z" fill="#5e5e5e"/><path d="M442.50 585.24L439.58 586.50L439.62 583.90z" fill="#5e5e5e"/><path d="M375.41 606.68L375.32 603.50L377.72 604.50z" fill="#5e5e5e"/><path d="M400.63 612.60L398.12 610.66L400.41 609.43z" fill="#5e5e5e"/><path d="M428.94 615.08L425.83 614.44L427.34 612.33z" fill="#5e5e5e"/><path d="M351.17 614.90L352.41 611.97L354.18 613.88z" fill="#5e5e5e"/><path d="M379.81 638.42L378.79 635.41L381.38 635.66z" fill="#5e5e5e"/><path d="M376.98 551.83L375.40 549.07L377.99 548.81z" fill="#5e5e5e"/><path d="M347.49 506.04L350.60 506.72L349.05 508.81z" fill="#5e5e5e"/><path d="M377.53 492.48L378.56 495.49L375.97 495.24z" fill="#5e5e5e"/><path d="M344.69 542.50L343.33 539.63L345.92 539.57z" fill="#5e5e5e"/><path d="M320.62 516.79L322.47 514.20L323.78 516.45z" fill="#5e5e5e"/><path d="M341.38 543.94L338.40 542.83L340.22 540.98z" fill="#5e5e5e"/><path d="M333.71 569.47L333.85 566.29L336.17 567.46z" fill="#5e5e5e"/><path d="M408.25 537.07L407.47 533.98L410.03 534.44z" fill="#5e5e5e"/><path d="M414.20 575.67L412.37 573.08L414.92 572.58z" fill="#5e5e5e"/><path d="M411.31 539.30L413.27 536.80L414.48 539.10z" fill="#5e5e5e"/><path d="M434.78 549.36L433.94 546.30L436.51 546.69z" fill="#5e5e5e"/><path d="M462.67 547.86L459.67 546.82L461.45 544.93z" fill="#5e5e5e"/><path d="M467.63 546.48L467.14 543.34L469.65 544.03z" fill="#5e5e5e"/><path d="M494.43 557.65L491.31 558.28L491.89 555.75z" fill="#5e5e5e"/><path d="M449.92 580.92L450.19 577.76L452.46 579.02z" fill="#5e5e5e"/><path d="M474.38 592.33L471.24 592.86L471.90 590.34z" fill="#5e5e5e"/><path d="M445.47 589.87L445.49 593.05L443.11 591.99z" fill="#5e5e5e"/><path d="M420.29 593.26L422.78 595.25L420.46 596.44z" fill="#5e5e5e"/><path d="M465.34 625.82L462.22 626.41L462.83 623.88z" fill="#5e5e5e"/><path d="M451.59 651.82L449.06 649.90L451.33 648.65z" fill="#5e5e5e"/><path d="M425.21 645.45L424.75 642.30L427.25 643.01z" fill="#5e5e5e"/><path d="M362.99 666.62L363.62 663.51L365.73 665.02z" fill="#5e5e5e"/><path d="M389.42 674.26L387.27 671.91L389.74 671.09z" fill="#5e5e5e"/><path d="M344.65 622.41L344.06 625.53L341.92 624.04z" fill="#5e5e5e"/><path d="M281.92 568.97L284.03 566.59L285.10 568.96z" fill="#5e5e5e"/><path d="M326.62 571.60L323.46 571.28L324.76 569.03z" fill="#5e5e5e"/><path d="M291.49 593.24L291.29 590.07L293.73 590.98z" fill="#5e5e5e"/><path d="M315.03 596.30L312.99 593.87L315.49 593.16z" fill="#5e5e5e"/><path d="M325.91 573.99L322.94 575.12L323.09 572.53z" fill="#5e5e5e"/><path d="M287.32 593.40L284.92 591.32L287.28 590.23z" fill="#5e5e5e"/><path d="M312.22 598.21L309.12 597.48L310.71 595.42z" fill="#5e5e5e"/><path d="M294.28 595.61L296.15 593.03L297.44 595.29z" fill="#5e5e5e"/><path d="M319.08 596.76L319.33 593.59L321.61 594.83z" fill="#5e5e5e"/><path d="M311.14 600.86L308.10 601.81L308.41 599.23z" fill="#5e5e5e"/><path d="M286.78 629.62L285.75 626.62L288.34 626.85z" fill="#5e5e5e"/><path d="M389.65 580.75L391.48 578.15L392.80 580.39z" fill="#5e5e5e"/><line x1="385.00" y1="583.50" x2="416.00" y2="584.90" stroke="#777" stroke-width="1.0"/><line x1="416.00" y1="584.90" x2="447.50" y2="585.30" stroke="#777" stroke-width="1.0"/><circle cx="82.10" cy="488.60" r="4.20" fill="none" stroke="#8c8c8c" stroke-width="0.6"/><path d="M79.79 491.96l2.2 -0.4l-1 2z" fill="#777"/><ellipse cx="82.10" cy="494.30" rx="7.40" ry="3.80" fill="#f2b2b2"/><text x="82.10" y="495.90" font-size="4.6" font-weight="bold" fill="#111" text-anchor="middle" font-family="Liberation Sans, Arial, sans-serif">EHF</text><ellipse cx="119.00" cy="489.20" rx="3.90" ry="7.80" fill="#86e886"/><text x="119.00" y="490.80" font-size="4.6" font-weight="bold" fill="#111" text-anchor="middle" textLength="20.7" lengthAdjust="spacingAndGlyphs" font-family="Liberation Sans, Arial, sans-serif">TNFRSF4</text><circle cx="197.40" cy="476.10" r="3.60" fill="#ec7373"/><text x="197.40" y="477.70" font-size="4.6" font-weight="bold" fill="#111" text-anchor="middle" textLength="29.3" lengthAdjust="spacingAndGlyphs" font-family="Liberation Sans, Arial, sans-serif">CRM/HORM2</text><ellipse cx="169.20" cy="507.70" rx="4.40" ry="8.80" fill="#ec7373"/><text x="169.20" y="509.30" font-size="4.6" font-weight="bold" fill="#111" text-anchor="middle" textLength="12.2" lengthAdjust="spacingAndGlyphs" font-family="Liberation Sans, Arial, sans-serif">TLR10</text><circle cx="138.10" cy="515.10" r="4.20" fill="none" stroke="#8c8c8c" stroke-width="0.6"/><path d="M135.79 518.46l2.2 -0.4l-1 2z" fill="#777"/><rect x="132.10" y="516.80" width="12.00" height="8.00" rx="1" fill="#86e886"/><text x="138.10" y="522.40" font-size="4.6" font-weight="bold" fill="#111" text-anchor="middle" textLength="14.6" lengthAdjust="spacingAndGlyphs" font-family="Liberation Sans, Arial, sans-serif">CXCL1</text><circle cx="199.90" cy="520.80" r="4.50" fill="none" stroke="#8c8c8c" stroke-width="0.6"/><path d="M197.43 524.40l2.2 -0.4l-1 2z" fill="#777"/><rect x="195.40" y="522.30" width="9.00" height="9.00" rx="1" fill="#86e886"/><text x="199.90" y="528.40" font-size="4.6" font-weight="bold" fill="#111" text-anchor="middle" textLength="11.0" lengthAdjust="spacingAndGlyphs" font-family="Liberation Sans, Arial, sans-serif">CCL4</text><rect x="224.90" y="518.60" width="10.00" height="7.20" rx="1" fill="#86e886"/><text x="229.90" y="523.80" font-size="4.6" font-weight="bold" fill="#111" text-anchor="middle" textLength="14.6" lengthAdjust="spacingAndGlyphs" font-family="Liberation Sans, Arial, sans-serif">TNFSF8</text><ellipse cx="47.20" cy="525.40" rx="7.60" ry="3.60" fill="#f2b2b2"/><text x="47.20" y="527.00" font-size="4.6" font-weight="bold" fill="#111" text-anchor="middle" textLength="17.1" lengthAdjust="spacingAndGlyphs" font-family="Liberation Sans, Arial, sans-serif">ZNF575</text><circle cx="80.40" cy="528.20" r="3.80" fill="#eaa0a0"/><text x="80.40" y="529.80" font-size="4.6" font-weight="bold" fill="#111" text-anchor="middle" textLength="24.4" lengthAdjust="spacingAndGlyphs" font-family="Liberation Sans, Arial, sans-serif">TNFRSF17</text><circle cx="109.20" cy="521.40" r="4.20" fill="none" stroke="#8c8c8c" stroke-width="0.6"/><path d="M106.89 524.76l2.2 -0.4l-1 2z" fill="#777"/><circle cx="109.20" cy="527.10" r="4.60" fill="#e48282"/><text x="109.20" y="528.70" font-size="4.6" font-weight="bold" fill="#111" text-anchor="middle" textLength="20.7" lengthAdjust="spacingAndGlyphs" font-family="Liberation Sans, Arial, sans-serif">TNFRSF13</text><circle cx="109.10" cy="554.30" r="5.00" fill="#f3f3f3" stroke="#9a9a9a" stroke-width="0.6"/><path d="M104.10 554.80A5.00 5.00 0 0 1 107.60 559.30L107.10 555.10z" fill="#6e6e6e"/><text x="109.10" y="555.90" font-size="4.6" font-weight="bold" fill="#111" text-anchor="middle" textLength="35.4" lengthAdjust="spacingAndGlyphs" font-family="Liberation Sans, Arial, sans-serif">NFkB (complex)</text><path d="M46.30 553.10L50.50 561.30L46.30 569.50L42.10 561.30z" fill="#f2a6a6"/><text x="46.30" y="562.90" font-size="4.6" font-weight="bold" fill="#111" text-anchor="middle" textLength="12.2" lengthAdjust="spacingAndGlyphs" font-family="Liberation Sans, Arial, sans-serif">GFRA4</text><circle cx="85.60" cy="566.00" r="4.50" fill="#f3f3f3" stroke="#9a9a9a" stroke-width="0.6"/><path d="M81.10 566.50A4.50 4.50 0 0 1 84.25 570.50L83.80 566.80z" fill="#6e6e6e"/><text x="85.60" y="567.60" font-size="4.6" font-weight="bold" fill="#111" text-anchor="middle" textLength="58.6" lengthAdjust="spacingAndGlyphs" font-family="Liberation Sans, Arial, sans-serif">Pro-inflammatory Cytokine</text><circle cx="139.30" cy="559.60" r="4.50" fill="#f3f3f3" stroke="#9a9a9a" stroke-width="0.6"/><path d="M134.80 560.10A4.50 4.50 0 0 1 137.95 564.10L137.50 560.40z" fill="#6e6e6e"/><text x="139.30" y="561.20" font-size="4.6" font-weight="bold" fill="#111" text-anchor="middle" textLength="32.9" lengthAdjust="spacingAndGlyphs" font-family="Liberation Sans, Arial, sans-serif">IFN alpha/beta</text><rect x="161.60" y="543.90" width="7.60" height="7.60" rx="1" fill="#86e886"/><text x="165.40" y="549.30" font-size="4.6" font-weight="bold" fill="#111" text-anchor="middle" textLength="8.5" lengthAdjust="spacingAndGlyphs" font-family="Liberation Sans, Arial, sans-serif">Tnf</text><circle cx="203.00" cy="547.30" r="5.00" fill="none" stroke="#8c8c8c" stroke-width="0.6"/><path d="M200.25 551.30l2.2 -0.4l-1 2z" fill="#777"/><circle cx="203.00" cy="553.80" r="4.50" fill="#f3f3f3" stroke="#9a9a9a" stroke-width="0.6"/><path d="M198.50 554.30A4.50 4.50 0 0 1 201.65 558.30L201.20 554.60z" fill="#6e6e6e"/><text x="203.00" y="555.40" font-size="4.6" font-weight="bold" fill="#111" text-anchor="middle" textLength="26.8" lengthAdjust="spacingAndGlyphs" font-family="Liberation Sans, Arial, sans-serif">Mhc (family)</text><circle cx="170.50" cy="575.00" r="4.50" fill="#f3f3f3" stroke="#9a9a9a" stroke-width="0.6"/><path d="M166.00 575.50A4.50 4.50 0 0 1 169.15 579.50L168.70 575.80z" fill="#6e6e6e"/><text x="170.50" y="576.60" font-size="4.6" font-weight="bold" fill="#111" text-anchor="middle" textLength="32.9" lengthAdjust="spacingAndGlyphs" font-family="Liberation Sans, Arial, sans-serif">IL12 (complex)</text><circle cx="238.40" cy="572.60" r="4.00" fill="none" stroke="#8c8c8c" stroke-width="0.6"/><path d="M236.20 575.80l2.2 -0.4l-1 2z" fill="#777"/><ellipse cx="238.40" cy="578.10" rx="8.50" ry="3.80" fill="#86e886"/><text x="238.40" y="579.70" font-size="4.6" font-weight="bold" fill="#111" text-anchor="middle" textLength="12.2" lengthAdjust="spacingAndGlyphs" font-family="Liberation Sans, Arial, sans-serif">TCF7</text><circle cx="145.50" cy="586.60" r="4.80" fill="#f08888"/><rect x="99.60" y="589.10" width="7.80" height="7.80" rx="1" fill="#86e886"/><text x="103.50" y="594.60" font-size="4.6" font-weight="bold" fill="#111" text-anchor="middle" textLength="9.8" lengthAdjust="spacingAndGlyphs" font-family="Liberation Sans, Arial, sans-serif">IL32</text><path d="M42.30 598.30L44.90 594.30L50.10 594.30L52.70 598.30L50.10 602.30L44.90 602.30z" fill="#f2b2b2"/><text x="47.50" y="599.90" font-size="4.6" font-weight="bold" fill="#111" text-anchor="middle" textLength="12.2" lengthAdjust="spacingAndGlyphs" font-family="Liberation Sans, Arial, sans-serif">GMFB</text><circle cx="77.30" cy="601.40" r="4.00" fill="#f3f3f3" stroke="#9a9a9a" stroke-width="0.6"/><path d="M73.30 601.90A4.00 4.00 0 0 1 76.10 605.40L75.70 602.20z" fill="#6e6e6e"/><text x="77.30" y="603.00" font-size="4.6" font-weight="bold" fill="#111" text-anchor="middle" textLength="7.3" lengthAdjust="spacingAndGlyphs" font-family="Liberation Sans, Arial, sans-serif">Nil</text><circle cx="188.70" cy="602.50" r="4.50" fill="#f3f3f3" stroke="#9a9a9a" stroke-width="0.6"/><path d="M184.20 603.00A4.50 4.50 0 0 1 187.35 607.00L186.90 603.30z" fill="#6e6e6e"/><text x="188.70" y="604.10" font-size="4.6" font-weight="bold" fill="#111" text-anchor="middle" textLength="23.2" lengthAdjust="spacingAndGlyphs" font-family="Liberation Sans, Arial, sans-serif">IFN gamma</text><circle cx="217.20" cy="609.50" r="4.60" fill="#eca2a2"/><text x="217.20" y="611.10" font-size="4.6" font-weight="bold" fill="#111" text-anchor="middle" textLength="13.4" lengthAdjust="spacingAndGlyphs" font-family="Liberation Sans, Arial, sans-serif">HMGB3</text><circle cx="132.20" cy="613.70" r="4.60" fill="#eea0a0"/><text x="132.20" y="615.30" font-size="4.6" font-weight="bold" fill="#111" text-anchor="middle" textLength="22.0" lengthAdjust="spacingAndGlyphs" font-family="Liberation Sans, Arial, sans-serif">TNFSF13</text><circle cx="159.50" cy="613.80" r="4.20" fill="#f3f3f3" stroke="#9a9a9a" stroke-width="0.6"/><path d="M155.30 614.30A4.20 4.20 0 0 1 158.24 618.00L157.82 614.60z" fill="#6e6e6e"/><text x="159.50" y="615.40" font-size="4.6" font-weight="bold" fill="#111" text-anchor="middle" textLength="18.3" lengthAdjust="spacingAndGlyphs" font-family="Liberation Sans, Arial, sans-serif">IFN Beta</text><circle cx="106.20" cy="614.50" r="4.20" fill="none" stroke="#8c8c8c" stroke-width="0.6"/><path d="M103.89 617.86l2.2 -0.4l-1 2z" fill="#777"/><circle cx="106.20" cy="620.20" r="4.60" fill="#eaa4a4"/><text x="106.20" y="621.80" font-size="4.6" font-weight="bold" fill="#111" text-anchor="middle" textLength="14.6" lengthAdjust="spacingAndGlyphs" font-family="Liberation Sans, Arial, sans-serif">CCNB2</text><circle cx="187.00" cy="629.50" r="4.20" fill="#f3f3f3" stroke="#9a9a9a" stroke-width="0.6"/><path d="M182.80 630.00A4.20 4.20 0 0 1 185.74 633.70L185.32 630.30z" fill="#6e6e6e"/><text x="187.00" y="631.10" font-size="4.6" font-weight="bold" fill="#111" text-anchor="middle" textLength="25.6" lengthAdjust="spacingAndGlyphs" font-family="Liberation Sans, Arial, sans-serif">IFN TYPE 1</text><circle cx="71.00" cy="628.80" r="4.50" fill="none" stroke="#8c8c8c" stroke-width="0.6"/><path d="M68.53 632.40l2.2 -0.4l-1 2z" fill="#777"/><ellipse cx="71.00" cy="634.80" rx="6.20" ry="4.00" fill="#e89696"/><text x="71.00" y="636.40" font-size="4.6" font-weight="bold" fill="#111" text-anchor="middle" textLength="14.6" lengthAdjust="spacingAndGlyphs" font-family="Liberation Sans, Arial, sans-serif">CASP7</text><circle cx="142.50" cy="641.60" r="4.50" fill="#f3f3f3" stroke="#9a9a9a" stroke-width="0.6"/><path d="M138.00 642.10A4.50 4.50 0 0 1 141.15 646.10L140.70 642.40z" fill="#6e6e6e"/><text x="142.50" y="643.20" font-size="4.6" font-weight="bold" fill="#111" text-anchor="middle" textLength="36.6" lengthAdjust="spacingAndGlyphs" font-family="Liberation Sans, Arial, sans-serif">Interferon alpha</text><circle cx="35.00" cy="656.30" r="4.60" fill="#f2b2b2"/><text x="35.00" y="657.90" font-size="4.6" font-weight="bold" fill="#111" text-anchor="middle" textLength="11.0" lengthAdjust="spacingAndGlyphs" font-family="Liberation Sans, Arial, sans-serif">SFN1</text><circle cx="191.50" cy="654.40" r="4.50" fill="none" stroke="#8c8c8c" stroke-width="0.6"/><path d="M189.03 658.00l2.2 -0.4l-1 2z" fill="#777"/><circle cx="191.50" cy="660.40" r="4.60" fill="#eea4a4"/><text x="191.50" y="662.00" font-size="4.6" font-weight="bold" fill="#111" text-anchor="middle" textLength="13.4" lengthAdjust="spacingAndGlyphs" font-family="Liberation Sans, Arial, sans-serif">PSMD3</text><circle cx="156.60" cy="669.50" r="4.40" fill="#e89a9a"/><text x="156.60" y="671.10" font-size="4.6" font-weight="bold" fill="#111" text-anchor="middle" textLength="8.5" lengthAdjust="spacingAndGlyphs" font-family="Liberation Sans, Arial, sans-serif">BID</text><circle cx="94.60" cy="676.40" r="4.20" fill="#f4b8b8"/><text x="94.60" y="678.00" font-size="4.6" font-weight="bold" fill="#111" text-anchor="middle" textLength="24.4" lengthAdjust="spacingAndGlyphs" font-family="Liberation Sans, Arial, sans-serif">HIST2H2AC</text><circle cx="138.80" cy="698.50" r="4.20" fill="#f2b2b2"/><text x="138.80" y="700.10" font-size="4.6" font-weight="bold" fill="#111" text-anchor="middle" textLength="13.4" lengthAdjust="spacingAndGlyphs" font-family="Liberation Sans, Arial, sans-serif">IFITM3</text><polygon points="381.88,489.11 379.61,491.38 376.39,491.38 374.12,489.11 374.12,485.89 376.39,483.62 379.61,483.62 381.88,485.89" fill="#86e886"/><text x="378.00" y="489.10" font-size="4.6" font-weight="bold" fill="#111" text-anchor="middle" textLength="13.4" lengthAdjust="spacingAndGlyphs" font-family="Liberation Sans, Arial, sans-serif">ATP1B1</text><circle cx="343.80" cy="503.30" r="3.80" fill="#f3f3f3" stroke="#9a9a9a" stroke-width="0.6"/><path d="M340.00 503.80A3.80 3.80 0 0 1 342.66 507.10L342.28 504.10z" fill="#6e6e6e"/><text x="343.80" y="504.90" font-size="4.6" font-weight="bold" fill="#111" text-anchor="middle" textLength="9.8" lengthAdjust="spacingAndGlyphs" font-family="Liberation Sans, Arial, sans-serif">APC</text><circle cx="316.30" cy="519.30" r="4.20" fill="#f2b2b2"/><text x="316.30" y="520.90" font-size="4.6" font-weight="bold" fill="#111" text-anchor="middle" textLength="22.0" lengthAdjust="spacingAndGlyphs" font-family="Liberation Sans, Arial, sans-serif">MAD2L1BP</text><circle cx="374.40" cy="519.50" r="5.00" fill="none" stroke="#8c8c8c" stroke-width="0.6"/><path d="M371.65 523.50l2.2 -0.4l-1 2z" fill="#777"/><ellipse cx="374.40" cy="526.00" rx="7.50" ry="4.20" fill="#eaa0a0"/><text x="374.40" y="527.60" font-size="4.6" font-weight="bold" fill="#111" text-anchor="middle" textLength="14.6" lengthAdjust="spacingAndGlyphs" font-family="Liberation Sans, Arial, sans-serif">GMNN</text><circle cx="415.00" cy="491.80" r="5.50" fill="none" stroke="#8c8c8c" stroke-width="0.6"/><path d="M411.98 496.20l2.2 -0.4l-1 2z" fill="#777"/><circle cx="415.00" cy="498.80" r="3.60" fill="#f2b2b2"/><text x="415.00" y="500.40" font-size="4.6" font-weight="bold" fill="#111" text-anchor="middle" textLength="11.0" lengthAdjust="spacingAndGlyphs" font-family="Liberation Sans, Arial, sans-serif">TFRC</text><circle cx="438.50" cy="518.50" r="5.00" fill="none" stroke="#8c8c8c" stroke-width="0.6"/><path d="M435.75 522.50l2.2 -0.4l-1 2z" fill="#777"/><circle cx="438.50" cy="525.00" r="4.20" fill="#86e886"/><text x="438.50" y="526.60" font-size="4.6" font-weight="bold" fill="#111" text-anchor="middle" textLength="9.8" lengthAdjust="spacingAndGlyphs" font-family="Liberation Sans, Arial, sans-serif">HBP1</text><circle cx="476.30" cy="507.50" r="6.00" fill="none" stroke="#8c8c8c" stroke-width="0.6"/><path d="M473.00 512.30l2.2 -0.4l-1 2z" fill="#777"/><circle cx="476.30" cy="515.00" r="4.40" fill="#86e886"/><text x="476.30" y="516.60" font-size="4.6" font-weight="bold" fill="#111" text-anchor="middle" textLength="11.0" lengthAdjust="spacingAndGlyphs" font-family="Liberation Sans, Arial, sans-serif">SKP2</text><circle cx="344.80" cy="540.80" r="5.00" fill="none" stroke="#8c8c8c" stroke-width="0.6"/><path d="M342.05 544.80l2.2 -0.4l-1 2z" fill="#777"/><circle cx="344.80" cy="547.30" r="4.00" fill="#f6d0d0"/><text x="344.80" y="548.90" font-size="4.6" font-weight="bold" fill="#111" text-anchor="middle" textLength="17.1" lengthAdjust="spacingAndGlyphs" font-family="Liberation Sans, Arial, sans-serif">MAD2L1</text><circle cx="407.50" cy="541.30" r="3.50" fill="#f3f3f3" stroke="#9a9a9a" stroke-width="0.6"/><path d="M404.00 541.80A3.50 3.50 0 0 1 406.45 544.80L406.10 542.10z" fill="#6e6e6e"/><text x="407.50" y="542.90" font-size="4.6" font-weight="bold" fill="#111" text-anchor="middle" textLength="40.3" lengthAdjust="spacingAndGlyphs" font-family="Liberation Sans, Arial, sans-serif">Adaptor protein 2</text><circle cx="377.50" cy="550.50" r="5.00" fill="none" stroke="#8c8c8c" stroke-width="0.6"/><path d="M374.75 554.50l2.2 -0.4l-1 2z" fill="#777"/><circle cx="377.50" cy="557.00" r="4.40" fill="#eaa0a0"/><text x="377.50" y="558.60" font-size="4.6" font-weight="bold" fill="#111" text-anchor="middle" textLength="13.4" lengthAdjust="spacingAndGlyphs" font-family="Liberation Sans, Arial, sans-serif">CDKN3</text><circle cx="434.00" cy="548.00" r="5.00" fill="none" stroke="#8c8c8c" stroke-width="0.6"/><path d="M431.25 552.00l2.2 -0.4l-1 2z" fill="#777"/><circle cx="434.00" cy="554.50" r="4.40" fill="#eaa0a0"/><text x="434.00" y="556.10" font-size="4.6" font-weight="bold" fill="#111" text-anchor="middle" textLength="17.1" lengthAdjust="spacingAndGlyphs" font-family="Liberation Sans, Arial, sans-serif">TSG101P</text><circle cx="466.30" cy="544.80" r="5.00" fill="none" stroke="#8c8c8c" stroke-width="0.6"/><path d="M463.55 548.80l2.2 -0.4l-1 2z" fill="#777"/><circle cx="466.30" cy="551.30" r="4.20" fill="#f3f3f3" stroke="#9a9a9a" stroke-width="0.6"/><path d="M462.10 551.80A4.20 4.20 0 0 1 465.04 555.50L464.62 552.10z" fill="#6e6e6e"/><text x="466.30" y="552.90" font-size="4.6" font-weight="bold" fill="#111" text-anchor="middle" textLength="30.5" lengthAdjust="spacingAndGlyphs" font-family="Liberation Sans, Arial, sans-serif">Cytochrome c</text><circle cx="499.50" cy="558.80" r="4.40" fill="#eaa0a0"/><text x="499.50" y="560.40" font-size="4.6" font-weight="bold" fill="#111" text-anchor="middle" textLength="20.7" lengthAdjust="spacingAndGlyphs" font-family="Liberation Sans, Arial, sans-serif">HIST1H1C</text><circle cx="304.40" cy="558.80" r="4.60" fill="#eaa0a0"/><text x="304.40" y="560.40" font-size="4.6" font-weight="bold" fill="#111" text-anchor="middle" textLength="13.4" lengthAdjust="spacingAndGlyphs" font-family="Liberation Sans, Arial, sans-serif">ZWINT</text><circle cx="277.00" cy="571.20" r="4.60" fill="#eaa0a0"/><text x="277.00" y="572.80" font-size="4.6" font-weight="bold" fill="#111" text-anchor="middle" textLength="13.4" lengthAdjust="spacingAndGlyphs" font-family="Liberation Sans, Arial, sans-serif">SPC24</text><circle cx="331.30" cy="567.80" r="5.00" fill="none" stroke="#8c8c8c" stroke-width="0.6"/><path d="M328.55 571.80l2.2 -0.4l-1 2z" fill="#777"/><circle cx="331.30" cy="574.30" r="4.60" fill="#eaa0a0"/><text x="331.30" y="575.90" font-size="4.6" font-weight="bold" fill="#111" text-anchor="middle" textLength="15.9" lengthAdjust="spacingAndGlyphs" font-family="Liberation Sans, Arial, sans-serif">NDC80</text><circle cx="358.30" cy="584.20" r="4.20" fill="#eaa0a0"/><text x="358.30" y="585.80" font-size="4.6" font-weight="bold" fill="#111" text-anchor="middle" textLength="15.9" lengthAdjust="spacingAndGlyphs" font-family="Liberation Sans, Arial, sans-serif">KIF18B</text><polygon points="389.25,585.26 386.76,587.75 383.24,587.75 380.75,585.26 380.75,581.74 383.24,579.25 386.76,579.25 389.25,581.74" fill="#86e886"/><text x="385.00" y="585.10" font-size="4.6" font-weight="bold" fill="#111" text-anchor="middle" textLength="9.8" lengthAdjust="spacingAndGlyphs" font-family="Liberation Sans, Arial, sans-serif">Vhl</text><circle cx="416.00" cy="573.30" r="10.10" fill="none" stroke="#8c8c8c" stroke-width="0.6"/><path d="M410.44 581.38l2.2 -0.4l-1 2z" fill="#777"/><path d="M416.00 576.30L421.60 584.90L416.00 593.50L410.40 584.90z" fill="#e66a6a"/><text x="416.00" y="586.50" font-size="4.6" font-weight="bold" fill="#111" text-anchor="middle" textLength="18.3" lengthAdjust="spacingAndGlyphs" font-family="Liberation Sans, Arial, sans-serif">PRKCQ</text><circle cx="447.50" cy="578.80" r="5.00" fill="none" stroke="#8c8c8c" stroke-width="0.6"/><path d="M444.75 582.80l2.2 -0.4l-1 2z" fill="#777"/><circle cx="447.50" cy="585.30" r="4.20" fill="#f3f3f3" stroke="#9a9a9a" stroke-width="0.6"/><path d="M443.30 585.80A4.20 4.20 0 0 1 446.24 589.50L445.82 586.10z" fill="#6e6e6e"/><text x="447.50" y="586.90" font-size="4.6" font-weight="bold" fill="#111" text-anchor="middle" textLength="15.9" lengthAdjust="spacingAndGlyphs" font-family="Liberation Sans, Arial, sans-serif">MAPK14</text><circle cx="479.60" cy="593.70" r="4.60" fill="#86e886"/><text x="479.60" y="595.30" font-size="4.6" font-weight="bold" fill="#111" text-anchor="middle" textLength="12.2" lengthAdjust="spacingAndGlyphs" font-family="Liberation Sans, Arial, sans-serif">BESN1</text><circle cx="289.60" cy="598.30" r="4.60" fill="#eaa0a0"/><text x="289.60" y="599.90" font-size="4.6" font-weight="bold" fill="#111" text-anchor="middle" textLength="11.0" lengthAdjust="spacingAndGlyphs" font-family="Liberation Sans, Arial, sans-serif">NUF2</text><circle cx="316.50" cy="601.50" r="4.60" fill="#eaa0a0"/><text x="316.50" y="603.10" font-size="4.6" font-weight="bold" fill="#111" text-anchor="middle" textLength="13.4" lengthAdjust="spacingAndGlyphs" font-family="Liberation Sans, Arial, sans-serif">CASC5</text><circle cx="373.50" cy="611.30" r="4.20" fill="#eea0a0"/><text x="373.50" y="612.90" font-size="4.6" font-weight="bold" fill="#111" text-anchor="middle" textLength="8.5" lengthAdjust="spacingAndGlyphs" font-family="Liberation Sans, Arial, sans-serif">ETS2</text><circle cx="403.00" cy="617.00" r="4.20" fill="#f2b2b2"/><text x="403.00" y="618.60" font-size="4.6" font-weight="bold" fill="#111" text-anchor="middle" textLength="14.6" lengthAdjust="spacingAndGlyphs" font-family="Liberation Sans, Arial, sans-serif">CCNE2</text><circle cx="433.00" cy="618.00" r="4.20" fill="#f3f3f3" stroke="#9a9a9a" stroke-width="0.6"/><path d="M428.80 618.50A4.20 4.20 0 0 1 431.74 622.20L431.32 618.80z" fill="#6e6e6e"/><text x="433.00" y="619.60" font-size="4.6" font-weight="bold" fill="#111" text-anchor="middle" textLength="35.4" lengthAdjust="spacingAndGlyphs" font-family="Liberation Sans, Arial, sans-serif">PI3K (complex)</text><circle cx="347.50" cy="611.80" r="5.00" fill="none" stroke="#8c8c8c" stroke-width="0.6"/><path d="M344.75 615.80l2.2 -0.4l-1 2z" fill="#777"/><circle cx="347.50" cy="618.30" r="4.20" fill="#eaa0a0"/><text x="347.50" y="619.90" font-size="4.6" font-weight="bold" fill="#111" text-anchor="middle" textLength="11.0" lengthAdjust="spacingAndGlyphs" font-family="Liberation Sans, Arial, sans-serif">PLK4</text><circle cx="470.20" cy="627.00" r="4.20" fill="#f2b2b2"/><text x="470.20" y="628.60" font-size="4.6" font-weight="bold" fill="#111" text-anchor="middle" textLength="14.6" lengthAdjust="spacingAndGlyphs" font-family="Liberation Sans, Arial, sans-serif">mir-29</text><circle cx="286.30" cy="628.00" r="5.50" fill="none" stroke="#8c8c8c" stroke-width="0.6"/><path d="M283.28 632.40l2.2 -0.4l-1 2z" fill="#777"/><circle cx="286.30" cy="635.00" r="4.60" fill="#eaa0a0"/><text x="286.30" y="636.60" font-size="4.6" font-weight="bold" fill="#111" text-anchor="middle" textLength="14.6" lengthAdjust="spacingAndGlyphs" font-family="Liberation Sans, Arial, sans-serif">CENPE</text><circle cx="379.30" cy="637.30" r="5.00" fill="none" stroke="#8c8c8c" stroke-width="0.6"/><path d="M376.55 641.30l2.2 -0.4l-1 2z" fill="#777"/><circle cx="379.30" cy="643.80" r="4.60" fill="#eaa0a0"/><text x="379.30" y="645.40" font-size="4.6" font-weight="bold" fill="#111" text-anchor="middle" textLength="13.4" lengthAdjust="spacingAndGlyphs" font-family="Liberation Sans, Arial, sans-serif">KIF2C</text><circle cx="326.30" cy="641.80" r="5.50" fill="none" stroke="#8c8c8c" stroke-width="0.6"/><path d="M323.28 646.20l2.2 -0.4l-1 2z" fill="#777"/><circle cx="326.30" cy="648.80" r="4.20" fill="#eaa0a0"/><text x="326.30" y="650.40" font-size="4.6" font-weight="bold" fill="#111" text-anchor="middle" textLength="11.0" lengthAdjust="spacingAndGlyphs" font-family="Liberation Sans, Arial, sans-serif">ECT2</text><circle cx="422.70" cy="643.10" r="9.70" fill="none" stroke="#8c8c8c" stroke-width="0.6"/><path d="M417.37 650.86l2.2 -0.4l-1 2z" fill="#777"/><path d="M422.70 645.90L427.90 654.30L422.70 662.70L417.50 654.30z" fill="#e66a6a"/><text x="422.70" y="655.90" font-size="4.6" font-weight="bold" fill="#111" text-anchor="middle" textLength="12.2" lengthAdjust="spacingAndGlyphs" font-family="Liberation Sans, Arial, sans-serif">NCF2</text><circle cx="454.00" cy="656.20" r="4.20" fill="#f2b2b2"/><text x="454.00" y="657.80" font-size="4.6" font-weight="bold" fill="#111" text-anchor="middle" textLength="12.2" lengthAdjust="spacingAndGlyphs" font-family="Liberation Sans, Arial, sans-serif">IL28A</text><path d="M357.00 665.50L363.20 675.00L357.00 684.50L350.80 675.00z" fill="#7ee07e"/><text x="357.00" y="676.60" font-size="4.6" font-weight="bold" fill="#111" text-anchor="middle" textLength="19.5" lengthAdjust="spacingAndGlyphs" font-family="Liberation Sans, Arial, sans-serif">MAPRE3</text><circle cx="391.00" cy="679.00" r="4.20" fill="#f2b2b2"/><text x="391.00" y="680.60" font-size="4.6" font-weight="bold" fill="#111" text-anchor="middle" textLength="13.4" lengthAdjust="spacingAndGlyphs" font-family="Liberation Sans, Arial, sans-serif">SOCS2</text><text x="34.8" y="493.8" font-size="15" font-weight="bold" font-family="Liberation Sans, Arial, sans-serif">C</text><text x="286.6" y="490.3" font-size="15" font-weight="bold" font-family="Liberation Sans, Arial, sans-serif">D</text><text x="47.5" y="700.3" font-size="11" fill="#222" font-family="Liberation Sans, Arial, sans-serif">cell cycle</text><text x="294.8" y="700.3" font-size="11.25" fill="#222" font-family="Liberation Sans, Arial, sans-serif">inflammatory response/cell death</text></svg></body></html>
